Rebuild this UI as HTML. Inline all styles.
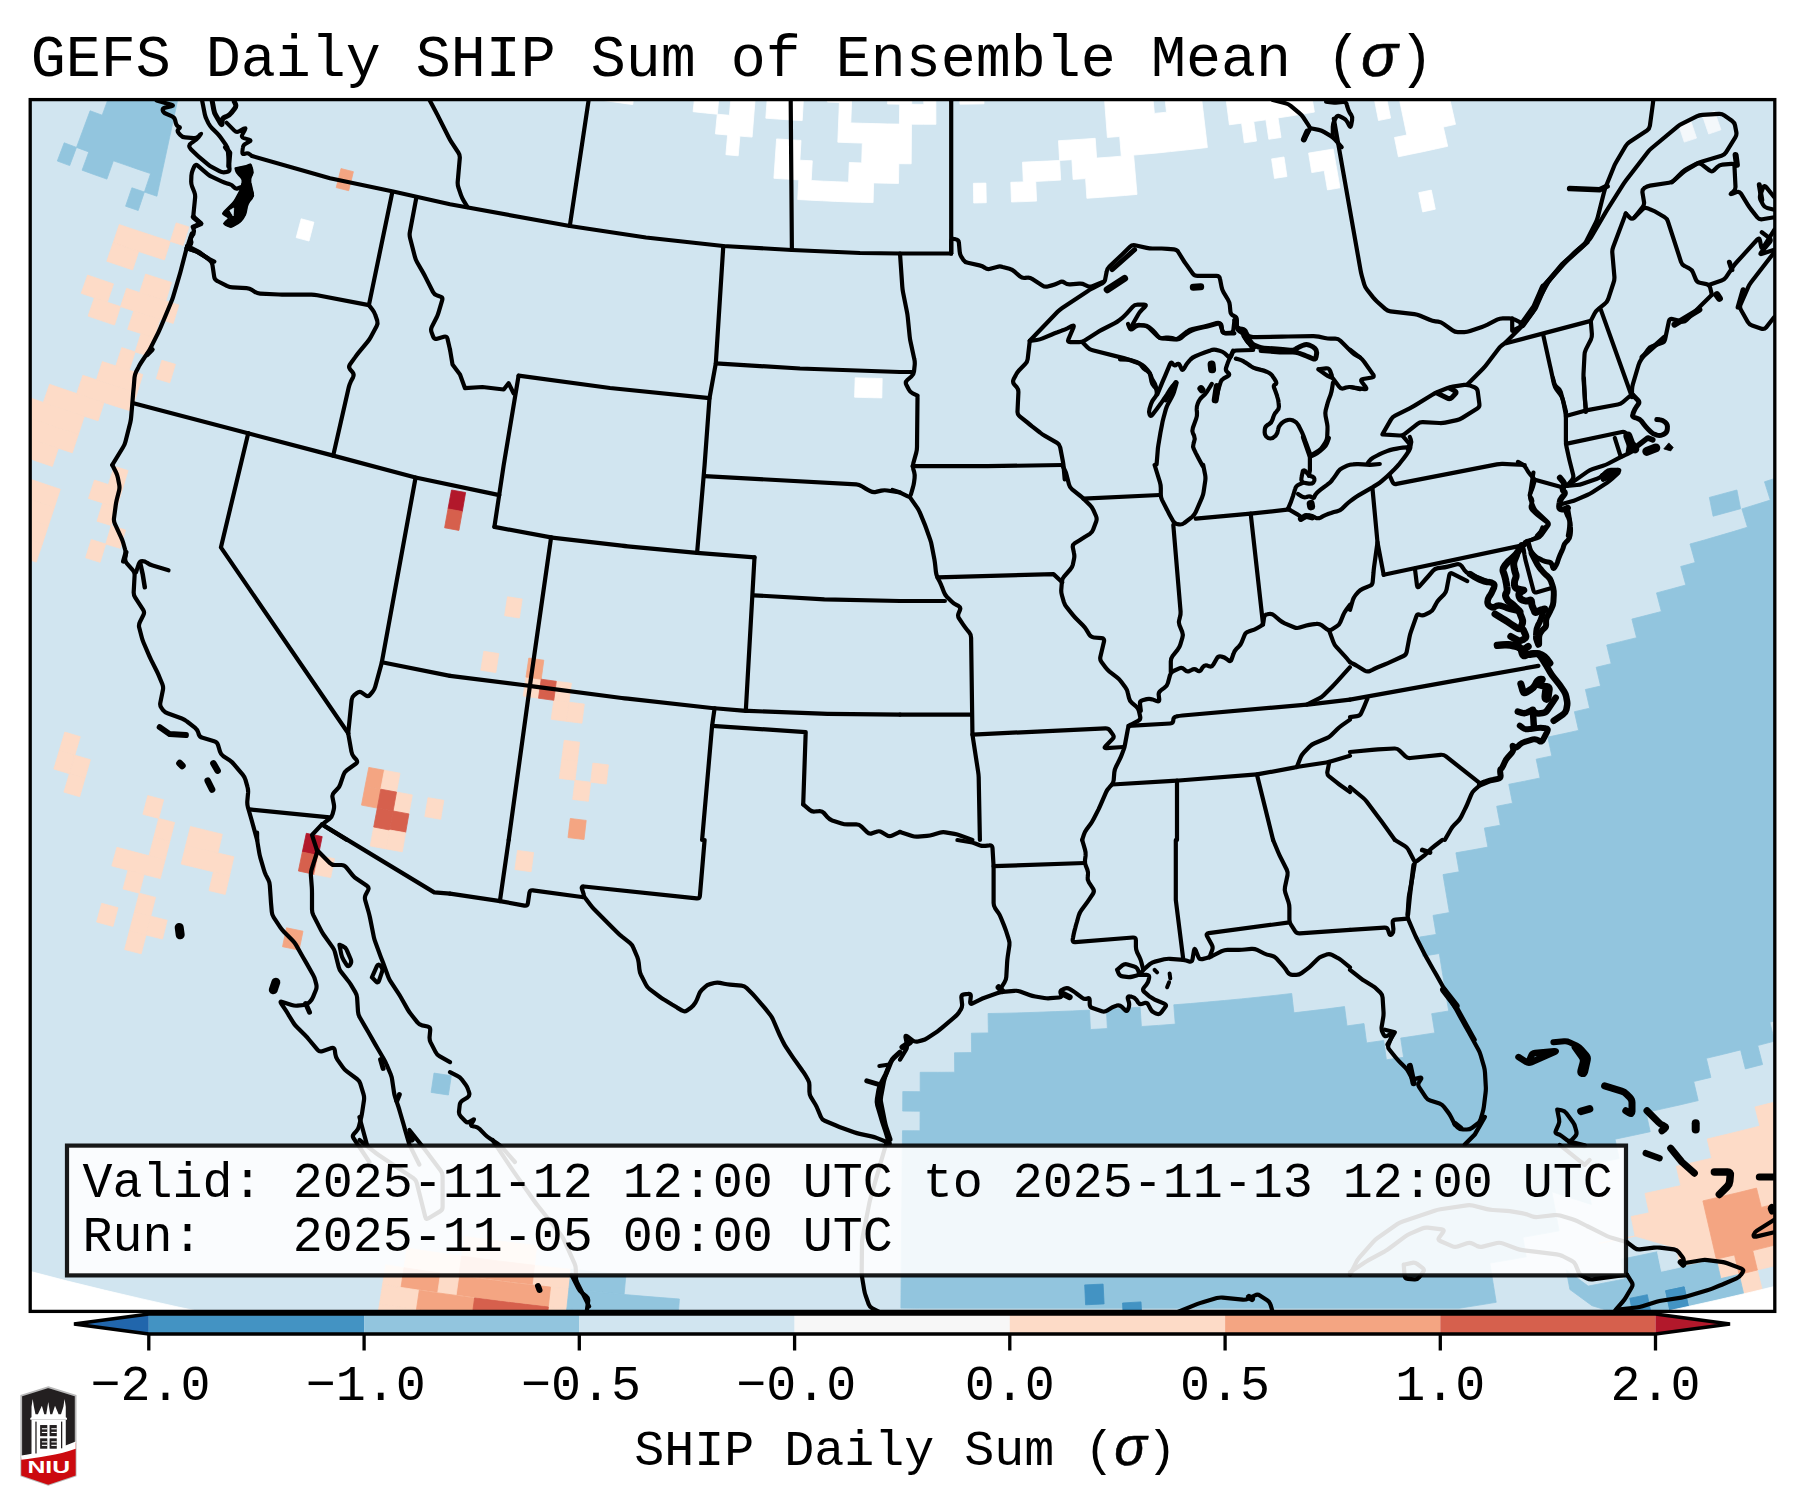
<!DOCTYPE html>
<html><head><meta charset="utf-8"><title>GEFS Daily SHIP</title>
<style>
html,body{margin:0;padding:0;background:#fff;}
body{width:1803px;height:1506px;overflow:hidden;font-family:"Liberation Mono",monospace;}
svg{display:block}
text{font-family:"Liberation Mono",monospace;fill:#000}
.it{font-family:"Liberation Sans",sans-serif;font-style:italic}
</style></head><body>
<svg width="1803" height="1506" viewBox="0 0 1803 1506">
<rect width="1803" height="1506" fill="#fff"/>
<defs><clipPath id="mapclip"><rect x="30" y="99.5" width="1745" height="1212"/></clipPath></defs>
<g clip-path="url(#mapclip)">
<rect x="30" y="99.5" width="1745" height="1212" fill="#d1e5f0"/>
<g stroke-width="0.8" stroke-linejoin="miter">
<path d="M1709.4,497.4 1736.9,490 1740.6,508.7 1713.1,516.2Z" fill="#92c5de" stroke="#92c5de"/>
<path d="M599.5,79.8 611.5,81.5 623.4,83.2 635.3,84.8 632.7,104.6 620.7,102.9 608.6,101.2 596.6,99.5Z" fill="#ffffff" stroke="#ffffff"/>
<path d="M695.2,92 721.1,74.5 717.3,114.2 729.4,115.3 733,75.6 744.9,76.6 756.8,77.6 752.1,137.1 739.9,136.1 738.2,155.8 725.9,154.7 727.6,135 715.4,133.9 717.3,114.2 705.2,113 693.1,111.7Z" fill="#ffffff" stroke="#ffffff"/>
<path d="M768.7,78.5 780.6,79.3 792.5,80.1 804.4,80.8 802.2,120.6 790,119.9 777.9,119.1 765.8,118.2Z" fill="#ffffff" stroke="#ffffff"/>
<path d="M776.6,138.9 788.8,139.7 801,140.4 799.9,160.2 812.3,160.8 811.2,180.5 823.7,181.2 836.2,181.7 848.6,182.2 849.3,162.5 861.7,162.9 862.3,143.1 850.1,142.7 837.8,142.2 839.4,102.5 851.5,103 850.8,122.9 862.9,123.3 875.1,123.6 887.2,123.9 899.4,124.1 899.7,104.2 911.7,104.3 923.8,104.4 923.8,84.5 935.8,84.5 935.9,124.3 923.7,124.3 911.5,124.2 911.2,163.8 898.8,163.7 898.5,183.4 886.1,183.2 873.6,182.9 873.1,202.6 860.5,202.3 847.9,201.9 835.4,201.4 822.8,200.8 810.2,200.2 797.7,199.5 798.8,179.9 786.3,179.1 773.9,178.3Z" fill="#ffffff" stroke="#ffffff"/>
<path d="M828.3,82.1 840.2,82.6 852.2,83 851.5,103 839.4,102.5 827.4,102Z" fill="#ffffff" stroke="#ffffff"/>
<path d="M888,84 900,84.2 911.9,84.4 911.7,104.3 899.7,104.2 887.6,104Z" fill="#ffffff" stroke="#ffffff"/>
<path d="M973.4,183.3 985.9,183.1 986.3,202.7 973.7,203Z" fill="#ffffff" stroke="#ffffff"/>
<path d="M959.7,84.3 971.6,84.1 983.6,83.9 984,103.8 972,104.1 959.9,104.2Z" fill="#ffffff" stroke="#ffffff"/>
<path d="M1102.9,77.9 1114.8,77 1126.7,76 1138.6,74.9 1150.5,73.8 1154.4,113.4 1166.5,112.2 1164.4,92.4 1176.4,91.2 1188.4,89.8 1200.4,88.4 1207.4,147.5 1195.2,148.9 1182.9,150.3 1170.6,151.6 1158.3,152.9 1145.9,154 1133.6,155.1 1137,194.4 1124.5,195.5 1112,196.5 1099.4,197.4 1086.9,198.3 1085.6,178.6 1073.1,179.4 1071.9,159.7 1059.6,160.4 1060.7,180.1 1048.2,180.8 1035.7,181.4 1036.6,201.1 1024,201.6 1011.5,202 1010.8,182.3 1023.3,181.9 1022.5,162.2 1034.9,161.6 1047.2,161.1 1059.6,160.4 1058.5,140.7 1070.7,140 1083,139.2 1095.2,138.3 1096.6,158.1 1109,157.2 1121.3,156.2 1119.7,136.5 1107.4,137.4Z" fill="#ffffff" stroke="#ffffff"/>
<path d="M1224.3,85.4 1311.1,92.6 1314.4,112.1 1302.3,114.1 1290.1,116.1 1278,117.9 1281,137.5 1268.8,139.3 1265.9,119.8 1253.7,121.5 1256.5,141.1 1244.3,142.8 1241.6,123.2 1229.4,124.8Z" fill="#ffffff" stroke="#ffffff"/>
<path d="M1271.6,158.9 1284,157 1286.9,176.5 1274.5,178.4Z" fill="#ffffff" stroke="#ffffff"/>
<path d="M1308.6,153.1 1320.9,151.1 1333.2,149 1336.6,168.4 1340,187.8 1327.5,189.9 1324.2,170.5 1311.8,172.6Z" fill="#ffffff" stroke="#ffffff"/>
<path d="M1370.9,81.6 1382.8,79.3 1390.6,118.1 1378.5,120.5Z" fill="#ffffff" stroke="#ffffff"/>
<path d="M1394.7,76.8 1446.7,85.8 1455.5,124.3 1443.3,127.1 1447.7,146.3 1435.4,149 1423.1,151.7 1410.8,154.2 1398.4,156.8 1394.5,137.5 1406.8,135Z" fill="#ffffff" stroke="#ffffff"/>
<path d="M1418.7,192.7 1431.3,190.1 1435.3,209.2 1422.7,211.9Z" fill="#ffffff" stroke="#ffffff"/>
<path d="M1678.2,123.5 1690.3,119.5 1696.5,138.1 1684.3,142.1Z" fill="#f4f8fb" stroke="#f4f8fb"/>
<path d="M1702.4,115.4 1714.5,111.3 1720.9,129.8 1708.7,134Z" fill="#f4f8fb" stroke="#f4f8fb"/>
<path d="M301.2,218.8 313.9,222.2 309,241 296.2,237.6Z" fill="#ffffff" stroke="#ffffff"/>
<path d="M855.2,377.8 868.7,378.2 882.2,378.5 881.8,397.9 868.2,397.6 854.6,397.2Z" fill="#ffffff" stroke="#ffffff"/>
<path d="M108.9,96.8 181.8,80.8 156.9,196.2 144.4,192 150.6,173.6 138.2,169.4 125.8,165.1 113.4,160.8 106.9,179.1 94.5,174.7 82.1,170.2 88.8,151.9 76.5,147.4 90.1,110.8 102.2,115.2Z" fill="#92c5de" stroke="#92c5de"/>
<path d="M64.2,142.8 76.5,147.4 69.7,165.6 57.3,161Z" fill="#92c5de" stroke="#92c5de"/>
<path d="M131.9,187.8 144.4,192 138.2,210.5 125.6,206.2Z" fill="#92c5de" stroke="#92c5de"/>
<path d="M119.3,224.6 132,228.9 144.8,233.1 157.5,237.3 170.3,241.4 164.4,259.9 151.5,255.7 138.7,251.5 125.9,247.3 113.1,242.9Z" fill="#fddbc7" stroke="#fddbc7"/>
<path d="M113.1,242.9 125.9,247.3 138.7,251.5 132.6,269.9 119.7,265.6 106.8,261.2Z" fill="#fddbc7" stroke="#fddbc7"/>
<path d="M176.2,222.9 188.9,226.9 183.1,245.4 170.3,241.4Z" fill="#fddbc7" stroke="#fddbc7"/>
<path d="M145.6,274.1 158.6,278.3 171.5,282.4 165.8,300.9 152.7,296.7 139.6,292.5Z" fill="#fddbc7" stroke="#fddbc7"/>
<path d="M87.6,275.1 100.5,279.5 113.5,283.9 107.4,302.3 94.3,297.8 81.2,293.3Z" fill="#fddbc7" stroke="#fddbc7"/>
<path d="M126.6,288.3 139.6,292.5 152.7,296.7 165.8,300.9 178.9,304.9 173.2,323.4 160,319.3 146.8,315.1 133.7,310.9 120.5,306.6Z" fill="#fddbc7" stroke="#fddbc7"/>
<path d="M94.3,297.8 107.4,302.3 120.5,306.6 114.5,325 101.3,320.6 88.1,316.1Z" fill="#fddbc7" stroke="#fddbc7"/>
<path d="M133.7,310.9 146.8,315.1 160,319.3 154.3,337.7 141,333.5 127.7,329.3Z" fill="#fddbc7" stroke="#fddbc7"/>
<path d="M141,333.5 154.3,337.7 148.5,356.1 135.1,351.9Z" fill="#fddbc7" stroke="#fddbc7"/>
<path d="M121.8,347.6 135.1,351.9 129.3,370.3 115.8,365.9Z" fill="#fddbc7" stroke="#fddbc7"/>
<path d="M161.9,360.3 175.4,364.3 169.8,382.8 156.3,378.7Z" fill="#fddbc7" stroke="#fddbc7"/>
<path d="M102.4,361.6 115.8,365.9 129.3,370.3 142.8,374.5 137.1,392.9 123.5,388.6 109.9,384.3 96.4,379.8Z" fill="#fddbc7" stroke="#fddbc7"/>
<path d="M82.9,375.3 96.4,379.8 109.9,384.3 123.5,388.6 137.1,392.9 131.3,411.2 117.6,406.9 104,402.5 90.4,398.1 76.7,393.6Z" fill="#fddbc7" stroke="#fddbc7"/>
<path d="M341,168.6 353.4,171.7 348.7,190.7 336.2,187.6Z" fill="#f4a582" stroke="#f4a582"/>
<path d="M49.6,384.3 63.2,389 76.7,393.6 90.4,398.1 104,402.5 98.1,420.8 84.3,416.3 70.6,411.8 56.9,407.1 43.3,402.4Z" fill="#fddbc7" stroke="#fddbc7"/>
<path d="M-91.8,351.4 -78.4,356.8 -65,362.2 -51.6,367.5 -38.1,372.7 -24.6,377.8 -11.1,382.9 2.5,387.9 16,392.8 29.7,397.7 43.3,402.4 56.9,407.1 70.6,411.8 84.3,416.3 78.3,434.6 64.5,430 50.7,425.3 37,420.6 23.2,415.8 9.5,410.9 -4.1,405.9 -17.8,400.9 -31.4,395.8 -45,390.6 -58.6,385.3 -72.1,380 -85.6,374.6 -99.1,369.2Z" fill="#fddbc7" stroke="#fddbc7"/>
<path d="M-99.1,369.2 -85.6,374.6 -72.1,380 -58.6,385.3 -45,390.6 -31.4,395.8 -17.8,400.9 -4.1,405.9 9.5,410.9 23.2,415.8 37,420.6 50.7,425.3 64.5,430 78.3,434.6 72.3,452.8 58.4,448.2 44.5,443.5 30.7,438.7 16.8,433.9 3,428.9 -10.7,424 -24.5,418.9 -38.2,413.7 -51.9,408.5 -65.5,403.2 -79.2,397.9 -92.8,392.4 -106.4,386.9Z" fill="#fddbc7" stroke="#fddbc7"/>
<path d="M-106.4,386.9 -92.8,392.4 -79.2,397.9 -65.5,403.2 -51.9,408.5 -38.2,413.7 -24.5,418.9 -10.7,424 3,428.9 16.8,433.9 30.7,438.7 44.5,443.5 58.4,448.2 52.3,466.4 38.3,461.7 24.4,456.8 10.4,452 -3.4,447 -17.3,442 -31.2,436.9 -45,431.7 -58.8,426.4 -72.5,421.1 -86.3,415.7 -100,410.2 -113.6,404.7Z" fill="#fddbc7" stroke="#fddbc7"/>
<path d="M-120.9,422.5 -107.1,428 -93.3,433.6 -79.5,439 -65.6,444.4 -51.8,449.6 -37.8,454.9 -23.9,460 -9.9,465.1 4,470.1 18.1,475 32.1,479.8 46.2,484.6 60.3,489.3 54.3,507.5 40.1,502.8 25.9,498 11.8,493.1 -2.3,488.1 -16.4,483.1 -30.5,478 -44.5,472.8 -58.5,467.6 -72.5,462.3 -86.5,456.9 -100.4,451.4 -114.3,445.8 -128.1,440.2Z" fill="#fddbc7" stroke="#fddbc7"/>
<path d="M-128.1,440.2 -114.3,445.8 -100.4,451.4 -86.5,456.9 -72.5,462.3 -58.5,467.6 -44.5,472.8 -30.5,478 -16.4,483.1 -2.3,488.1 11.8,493.1 25.9,498 40.1,502.8 54.3,507.5 48.3,525.7 34,520.9 19.7,516.1 5.5,511.2 -8.7,506.2 -22.9,501.2 -37.1,496 -51.2,490.8 -65.3,485.5 -79.4,480.2 -93.4,474.7 -107.5,469.2 -121.4,463.6 -135.4,458Z" fill="#fddbc7" stroke="#fddbc7"/>
<path d="M-135.4,458 -121.4,463.6 -107.5,469.2 -93.4,474.7 -79.4,480.2 -65.3,485.5 -51.2,490.8 -37.1,496 -22.9,501.2 -8.7,506.2 5.5,511.2 19.7,516.1 34,520.9 48.3,525.7 42.3,543.9 27.9,539.1 13.5,534.3 -0.8,529.3 -15.1,524.3 -29.4,519.2 -43.7,514 -57.9,508.8 -72.1,503.5 -86.3,498.1 -100.4,492.6 -114.5,487 -128.6,481.4 -142.7,475.7Z" fill="#fddbc7" stroke="#fddbc7"/>
<path d="M-142.7,475.7 -128.6,481.4 -114.5,487 -100.4,492.6 -86.3,498.1 -72.1,503.5 -57.9,508.8 -43.7,514 -29.4,519.2 -15.1,524.3 -0.8,529.3 13.5,534.3 27.9,539.1 42.3,543.9 36.2,562.1 21.8,557.3 7.3,552.4 -7.1,547.4 -21.5,542.4 -35.9,537.2 -50.3,532 -64.6,526.8 -78.9,521.4 -93.1,516 -107.4,510.5 -121.6,504.9 -135.8,499.2 -149.9,493.5Z" fill="#fddbc7" stroke="#fddbc7"/>
<path d="M94.4,480.1 108.4,484.6 122.5,488.9 116.9,507.3 102.7,502.9 88.5,498.4Z" fill="#fddbc7" stroke="#fddbc7"/>
<path d="M102.7,502.9 116.9,507.3 111.3,525.6 97,521.2Z" fill="#fddbc7" stroke="#fddbc7"/>
<path d="M114.2,466.3 128.1,470.6 122.5,488.9 108.4,484.6Z" fill="#fddbc7" stroke="#fddbc7"/>
<path d="M111.3,525.6 125.6,530 120.1,548.3 105.7,544Z" fill="#fddbc7" stroke="#fddbc7"/>
<path d="M91.3,539.5 105.7,544 100.1,562.3 85.6,557.8Z" fill="#fddbc7" stroke="#fddbc7"/>
<path d="M64.8,732.1 80.3,736.7 74.8,755.2 59.3,750.6Z" fill="#fddbc7" stroke="#fddbc7"/>
<path d="M59.3,750.6 74.8,755.2 69.4,773.7 53.8,769Z" fill="#fddbc7" stroke="#fddbc7"/>
<path d="M74.8,755.2 90.4,759.7 85,778.2 69.4,773.7Z" fill="#fddbc7" stroke="#fddbc7"/>
<path d="M69.4,773.7 85,778.2 79.7,796.7 63.9,792.1Z" fill="#fddbc7" stroke="#fddbc7"/>
<path d="M147.8,795.6 163.6,799.8 158.7,818.4 142.9,814.3Z" fill="#fddbc7" stroke="#fddbc7"/>
<path d="M158.7,818.4 174.6,822.5 169.8,841.2 153.9,837.1Z" fill="#fddbc7" stroke="#fddbc7"/>
<path d="M153.9,837.1 169.8,841.2 165.1,859.9 149,855.8Z" fill="#fddbc7" stroke="#fddbc7"/>
<path d="M116.9,847.3 132.9,851.6 149,855.8 165.1,859.9 160.3,878.6 144.1,874.5 128,870.2 111.8,865.9Z" fill="#fddbc7" stroke="#fddbc7"/>
<path d="M190.5,826.5 206.4,830.4 222.3,834.3 217.9,853 201.8,849.2 185.8,845.2Z" fill="#fddbc7" stroke="#fddbc7"/>
<path d="M185.8,845.2 201.8,849.2 217.9,853 233.9,856.8 229.6,875.6 213.4,871.8 197.3,867.9 181.2,864Z" fill="#fddbc7" stroke="#fddbc7"/>
<path d="M306.3,833.3 322.2,836.6 318.4,855.5 302.3,852.1Z" fill="#b2182b" stroke="#b2182b"/>
<path d="M302.3,852.1 318.4,855.5 314.5,874.4 298.4,871Z" fill="#d6604d" stroke="#d6604d"/>
<path d="M128,870.2 144.1,874.5 139.3,893.2 123,888.9Z" fill="#fddbc7" stroke="#fddbc7"/>
<path d="M139.3,893.2 155.5,897.4 150.8,916.2 134.4,912Z" fill="#fddbc7" stroke="#fddbc7"/>
<path d="M101.7,903.3 118,907.7 113,926.4 96.6,922Z" fill="#fddbc7" stroke="#fddbc7"/>
<path d="M134.4,912 150.8,916.2 146,935 129.5,930.7Z" fill="#fddbc7" stroke="#fddbc7"/>
<path d="M150.8,916.2 167.2,920.3 162.5,939.1 146,935Z" fill="#fddbc7" stroke="#fddbc7"/>
<path d="M129.5,930.7 146,935 141.2,953.8 124.6,949.5Z" fill="#fddbc7" stroke="#fddbc7"/>
<path d="M213.4,871.8 229.6,875.6 225.2,894.4 209,890.6Z" fill="#fddbc7" stroke="#fddbc7"/>
<path d="M318.4,855.5 334.5,858.7 330.7,877.6 314.5,874.4Z" fill="#fddbc7" stroke="#fddbc7"/>
<path d="M286.5,927.8 303,931.2 299.1,950.1 282.5,946.7Z" fill="#f4a582" stroke="#f4a582"/>
<path d="M434,1073.1 451.3,1075.7 448.4,1095 431.1,1092.4Z" fill="#92c5de" stroke="#92c5de"/>
<path d="M368.8,767.4 384.4,770.3 380.8,789.2 365.1,786.2Z" fill="#f4a582" stroke="#f4a582"/>
<path d="M365.1,786.2 380.8,789.2 377.3,808.1 361.5,805.1Z" fill="#f4a582" stroke="#f4a582"/>
<path d="M384.4,770.3 400,773.2 396.5,792.1 380.8,789.2Z" fill="#fddbc7" stroke="#fddbc7"/>
<path d="M396.5,792.1 412.3,794.9 408.9,813.9 393.1,811Z" fill="#fddbc7" stroke="#fddbc7"/>
<path d="M428,797.7 443.8,800.3 440.7,819.3 424.8,816.6Z" fill="#fddbc7" stroke="#fddbc7"/>
<path d="M373.7,827 389.7,830 386.2,848.9 370.2,846Z" fill="#fddbc7" stroke="#fddbc7"/>
<path d="M380.8,789.2 396.5,792.1 393.1,811 377.3,808.1Z" fill="#d6604d" stroke="#d6604d"/>
<path d="M377.3,808.1 393.1,811 389.7,830 373.7,827Z" fill="#d6604d" stroke="#d6604d"/>
<path d="M393.1,811 408.9,813.9 405.6,832.8 389.7,830Z" fill="#d6604d" stroke="#d6604d"/>
<path d="M451.5,490 465.6,492.5 462.3,511.5 448,508.9Z" fill="#b2182b" stroke="#b2182b"/>
<path d="M448,508.9 462.3,511.5 458.9,530.4 444.6,527.8Z" fill="#d6604d" stroke="#d6604d"/>
<path d="M507.5,596.8 522.2,599 519.4,618 504.6,615.7Z" fill="#fddbc7" stroke="#fddbc7"/>
<path d="M483.8,651.3 498.8,653.6 495.8,672.6 480.8,670.2Z" fill="#fddbc7" stroke="#fddbc7"/>
<path d="M556.3,681.3 571.4,683.2 569,702.2 553.8,700.3Z" fill="#fddbc7" stroke="#fddbc7"/>
<path d="M553.8,700.3 569,702.2 566.6,721.3 551.2,719.3Z" fill="#fddbc7" stroke="#fddbc7"/>
<path d="M569,702.2 584.3,704.1 581.9,723.2 566.6,721.3Z" fill="#fddbc7" stroke="#fddbc7"/>
<path d="M526,677.1 541.2,679.2 538.5,698.2 523.3,696.1Z" fill="#fddbc7" stroke="#fddbc7"/>
<path d="M564.2,740.3 579.6,742.2 577.3,761.3 561.8,759.3Z" fill="#fddbc7" stroke="#fddbc7"/>
<path d="M561.8,759.3 577.3,761.3 575,780.3 559.3,778.4Z" fill="#fddbc7" stroke="#fddbc7"/>
<path d="M592.9,763.1 608.4,764.9 606.3,784 590.7,782.2Z" fill="#fddbc7" stroke="#fddbc7"/>
<path d="M575,780.3 590.7,782.2 588.4,801.3 572.7,799.4Z" fill="#fddbc7" stroke="#fddbc7"/>
<path d="M517.5,850.4 533.6,852.6 531.1,871.7 514.9,869.5Z" fill="#fddbc7" stroke="#fddbc7"/>
<path d="M528.8,658.1 543.8,660.2 541.2,679.2 526,677.1Z" fill="#f4a582" stroke="#f4a582"/>
<path d="M570.3,818.5 586.2,820.4 584,839.5 568,837.6Z" fill="#f4a582" stroke="#f4a582"/>
<path d="M541.2,679.2 556.3,681.3 553.8,700.3 538.5,698.2Z" fill="#d6604d" stroke="#d6604d"/>
<path d="M389.7,830 405.6,832.8 402.3,851.8 386.2,848.9Z" fill="#fddbc7" stroke="#fddbc7"/>
<path d="M902.3,1150.2 902.5,1130.7 920,1130.8 920.1,1111.2 902.7,1111.1 902.8,1091.6 920.2,1091.7 920.2,1072.3 937.4,1072.3 954.7,1072.2 954.5,1052.8 971.6,1052.6 971.4,1033.2 988.4,1032.9 988.1,1013.5 1005,1013.2 1021.9,1012.8 1038.8,1012.2 1055.7,1011.6 1072.6,1010.9 1089.5,1010.1 1090.4,1029.5 1107.4,1028.6 1106.4,1009.2 1123.2,1008.3 1140.1,1007.2 1141.4,1026.5 1158.4,1025.4 1175.3,1024.1 1173.8,1004.8 1190.7,1003.5 1207.6,1002 1224.4,1000.5 1241.2,998.9 1258,997.2 1274.9,995.4 1291.7,993.5 1293.9,1012.8 1310.8,1010.8 1327.7,1008.8 1344.5,1006.6 1347,1025.9 1364,1023.6 1366.6,1042.9 1383.7,1040.5 1386.4,1059.8 1403.6,1057.3 1400.7,1038.1 1417.8,1035.5 1434.8,1032.9 1431.7,1013.7 1448.7,1011 1445.5,991.8 1442.4,972.6 1439.3,953.5 1422.7,956.2 1419.7,937.1 1436.2,934.4 1433,915.4 1449.4,912.6 1443,874.6 1459.2,871.8 1455.9,852.8 1471.9,850 1487.9,847.1 1484.4,828.1 1500.3,825.2 1496.7,806.3 1512.5,803.2 1508.8,784.3 1524.5,781.2 1540.1,778 1536.2,759.2 1551.8,755.9 1547.8,737.1 1563.2,733.8 1578.6,730.4 1574.4,711.7 1589.7,708.2 1585.4,689.5 1600.6,686 1596.2,667.3 1611.2,663.7 1606.7,645.1 1621.6,641.4 1636.6,637.7 1631.9,619.1 1646.7,615.3 1661.4,611.5 1656.5,592.9 1671.2,589 1685.8,585 1680.7,566.5 1695.2,562.5 1690,544 1704.4,540 1718.8,535.8 1733.2,531.6 1747.5,527.2 1741.9,508.9 1756.1,504.5 1770.3,500.1 1764.5,481.8 1778.5,477.3 1812.7,486.3 1803.6,1013 1786.7,1017.7 1769.8,1022.2 1774.7,1041.1 1757.7,1045.5 1762.6,1064.5 1745.4,1068.9 1740.6,1049.9 1723.5,1054.2 1706.3,1058.3 1710.9,1077.4 1693.7,1081.5 1698.2,1100.6 1680.8,1104.7 1663.4,1108.6 1646,1112.5 1650.2,1131.7 1632.6,1135.5 1615,1139.2 1619.1,1158.5 1601.4,1162.1 1583.7,1165.6 1591.3,1204.4 1551.8,1191.8 1559,1230.8 1540.9,1234.1 1522.8,1237.3 1526.2,1256.8 1508,1260 1489.8,1263 1493,1282.6 1496.2,1302.3 1477.8,1305.3 1459.3,1308.2 919.4,1308.2 900.9,1308.1Z" fill="#92c5de" stroke="#92c5de"/>
<path d="M1807.1,1093.4 1789.8,1098 1772.4,1102.6 1755,1107 1759.8,1126.1 1742.3,1130.5 1724.8,1134.8 1707.2,1139 1711.7,1158.2 1694,1162.3 1676.3,1166.3 1680.7,1185.6 1662.8,1189.6 1645,1193.4 1649.1,1212.8 1631.1,1216.6 1635.1,1236.1 1617,1239.8 1598.9,1243.4 1617,1239.8 1635.1,1236.1 1675.5,1247.8 1679.8,1267.3 1698.1,1263.3 1716.3,1259.1 1720.8,1278.6 1739.1,1274.4 1743.7,1293.9 1762.1,1289.5 1757.4,1270 1775.6,1265.6 1793.9,1261 1812.1,1256.4Z" fill="#fddbc7" stroke="#fddbc7"/>
<path d="M1702.9,1200.9 1720.8,1196.7 1738.7,1192.5 1756.5,1188.1 1761.3,1207.4 1779.2,1203 1797.1,1198.4 1815,1193.7 1807.1,1237 1789,1241.6 1770.8,1246.1 1752.7,1250.6 1757.4,1270 1739.1,1274.4 1734.5,1254.9 1716.3,1259.1Z" fill="#f4a582" stroke="#f4a582"/>
<path d="M1621,1259.3 1639.2,1255.6 1657.4,1251.7 1661.5,1271.3 1679.8,1267.3 1698.1,1263.3 1716.3,1259.1 1720.8,1278.6 1739.1,1274.4 1743.7,1293.9 1725.3,1298.2 1729.8,1317.8 1688.4,1306.5 1669.9,1310.5 1651.4,1314.4 1632.9,1318.1Z" fill="#92c5de" stroke="#92c5de"/>
<path d="M1657.4,1251.7 1675.5,1247.8 1679.8,1267.3 1661.5,1271.3Z" fill="#d1e5f0" stroke="#d1e5f0"/>
<path d="M1628.9,1298.5 1647.3,1294.7 1651.4,1314.4 1632.9,1318.1Z" fill="#4393c3" stroke="#4393c3"/>
<path d="M1665.7,1290.8 1684.1,1286.9 1688.4,1306.5 1669.9,1310.5Z" fill="#4393c3" stroke="#4393c3"/>
<path d="M1665.7,1290.8 1684.1,1286.9 1688.4,1306.5 1669.9,1310.5Z" fill="#4393c3" stroke="#4393c3"/>
<path d="M1566.2,1269.9 1588.2,1286.1 1606.6,1282.5 1624.9,1278.9 1632.9,1318.1 1592,1305.7 1569.9,1289.5Z" fill="#92c5de" stroke="#92c5de"/>
<path d="M1084.7,1284.9 1103.1,1284.1 1104.1,1303.9 1085.6,1304.8Z" fill="#4393c3" stroke="#4393c3"/>
<path d="M1122.5,1303 1141,1301.9 1142.2,1321.8 1123.6,1322.8Z" fill="#4393c3" stroke="#4393c3"/>
<path d="M464.3,1236.4 482.4,1238.8 500.5,1241.2 518.6,1243.4 536.8,1245.6 534.5,1265.3 516.2,1263.1 498,1260.9 479.8,1258.5 461.6,1256Z" fill="#fddbc7" stroke="#fddbc7"/>
<path d="M407,1248.1 425.2,1250.8 443.4,1253.5 461.6,1256 479.8,1258.5 498,1260.9 516.2,1263.1 534.5,1265.3 552.7,1267.4 571,1269.3 568.9,1289.1 550.5,1287.1 532.2,1285 513.8,1282.9 495.5,1280.6 477.2,1278.2 458.9,1275.7 440.6,1273.1 422.3,1270.5 404,1267.7Z" fill="#fddbc7" stroke="#fddbc7"/>
<path d="M461.6,1256 479.8,1258.5 498,1260.9 516.2,1263.1 534.5,1265.3 532.2,1285 513.8,1282.9 495.5,1280.6 477.2,1278.2 458.9,1275.7Z" fill="#f4a582" stroke="#f4a582"/>
<path d="M385.7,1264.8 404,1267.7 422.3,1270.5 440.6,1273.1 458.9,1275.7 477.2,1278.2 495.5,1280.6 513.8,1282.9 532.2,1285 550.5,1287.1 568.9,1289.1 566.8,1308.9 548.3,1306.9 529.9,1304.8 511.4,1302.6 493,1300.3 474.6,1297.9 456.1,1295.4 437.7,1292.9 419.3,1290.2 401,1287.4 382.6,1284.5Z" fill="#fddbc7" stroke="#fddbc7"/>
<path d="M404,1267.7 422.3,1270.5 440.6,1273.1 458.9,1275.7 477.2,1278.2 495.5,1280.6 513.8,1282.9 532.2,1285 550.5,1287.1 548.3,1306.9 529.9,1304.8 511.4,1302.6 493,1300.3 474.6,1297.9 456.1,1295.4 437.7,1292.9 419.3,1290.2 401,1287.4Z" fill="#f4a582" stroke="#f4a582"/>
<path d="M440.6,1273.1 458.9,1275.7 456.1,1295.4 437.7,1292.9Z" fill="#fddbc7" stroke="#fddbc7"/>
<path d="M382.6,1284.5 401,1287.4 419.3,1290.2 437.7,1292.9 456.1,1295.4 474.6,1297.9 493,1300.3 511.4,1302.6 529.9,1304.8 548.3,1306.9 566.8,1308.9 564.7,1328.8 546.1,1326.8 527.6,1324.7 509,1322.4 490.5,1320.1 471.9,1317.7 453.4,1315.2 434.9,1312.6 416.4,1309.9 397.9,1307.1 379.5,1304.2Z" fill="#fddbc7" stroke="#fddbc7"/>
<path d="M419.3,1290.2 437.7,1292.9 456.1,1295.4 474.6,1297.9 493,1300.3 511.4,1302.6 529.9,1304.8 548.3,1306.9 546.1,1326.8 527.6,1324.7 509,1322.4 490.5,1320.1 471.9,1317.7 453.4,1315.2 434.9,1312.6 416.4,1309.9Z" fill="#f4a582" stroke="#f4a582"/>
<path d="M474.6,1297.9 493,1300.3 511.4,1302.6 529.9,1304.8 548.3,1306.9 546.1,1326.8 527.6,1324.7 509,1322.4 490.5,1320.1 471.9,1317.7Z" fill="#d6604d" stroke="#d6604d"/>
<path d="M379.5,1304.2 397.9,1307.1 416.4,1309.9 434.9,1312.6 453.4,1315.2 471.9,1317.7 490.5,1320.1 509,1322.4 527.6,1324.7 546.1,1326.8 564.7,1328.8 562.6,1348.7 543.9,1346.7 525.3,1344.5 506.6,1342.3 487.9,1340 469.3,1337.6 450.7,1335.1 432.1,1332.4 413.5,1329.7 394.9,1326.9 376.3,1324Z" fill="#fddbc7" stroke="#fddbc7"/>
<path d="M416.4,1309.9 434.9,1312.6 453.4,1315.2 471.9,1317.7 490.5,1320.1 509,1322.4 527.6,1324.7 546.1,1326.8 543.9,1346.7 525.3,1344.5 506.6,1342.3 487.9,1340 469.3,1337.6 450.7,1335.1 432.1,1332.4 413.5,1329.7Z" fill="#f4a582" stroke="#f4a582"/>
<path d="M471.9,1317.7 490.5,1320.1 509,1322.4 527.6,1324.7 546.1,1326.8 543.9,1346.7 525.3,1344.5 506.6,1342.3 487.9,1340 469.3,1337.6Z" fill="#d6604d" stroke="#d6604d"/>
<path d="M571,1269.3 589.3,1271.2 607.6,1273 625.9,1274.7 624.1,1294.5 605.7,1292.8 587.3,1291 568.9,1289.1Z" fill="#92c5de" stroke="#92c5de"/>
<path d="M568.9,1289.1 587.3,1291 605.7,1292.8 624.1,1294.5 642.5,1296.1 660.9,1297.6 679.4,1299 677.9,1318.8 659.4,1317.4 640.8,1315.9 622.3,1314.3 603.8,1312.6 585.3,1310.8 566.8,1308.9Z" fill="#92c5de" stroke="#92c5de"/>
<path d="M566.8,1308.9 585.3,1310.8 603.8,1312.6 622.3,1314.3 640.8,1315.9 659.4,1317.4 677.9,1318.8 676.4,1338.7 657.8,1337.3 639.2,1335.8 620.5,1334.2 601.9,1332.5 583.3,1330.7 564.7,1328.8Z" fill="#92c5de" stroke="#92c5de"/>
<path d="M-150.5,1218.7 -114.4,1230.1 -78.2,1241 -41.9,1251.6 -5.5,1261.8 31,1271.6 67.6,1281.1 104.4,1290.1 141.2,1298.7 178.1,1307 215.1,1314.8 252.1,1322.3 289.3,1329.4 326.5,1336 363.8,1342.3 401.1,1348.2 438.6,1353.6 476,1358.7 513.6,1363.4 551.1,1367.6 588.7,1371.5 626.4,1375 664.1,1378 701.8,1380.7 739.6,1382.9 777.3,1384.8 815.1,1386.2 852.9,1387.3 890.7,1387.9 928.5,1388.2 966.3,1388 1004.1,1387.4 1041.9,1386.5 1079.7,1385.1 1117.5,1383.3 1155.3,1381.1 1193,1378.5 1230.7,1375.6 1268.3,1372.2 1306,1368.4 1343.5,1364.2 1381.1,1359.6 1418.5,1354.6 1456,1349.2 1493.3,1343.4 1530.6,1337.2 1567.9,1330.6 1605,1323.6 1642.1,1316.3 1679.1,1308.5 1716,1300.3 1752.9,1291.7 1789.6,1282.8 1826.3,1273.4 1862.8,1263.7 1899.2,1253.6 1935.5,1243 1900,1400 -100,1400Z" fill="#ffffff" stroke="#ffffff"/>
<path d="M235.4,168.2 246.5,166 250.9,163.8 253.1,172.6 249.8,179.3 252,189.3 253.7,195.9 247.6,203.7 245.4,214.8 240.9,221.5 230.9,227.6 223.2,223.7 229.8,218.1 222.1,213.7 234.3,201.5 240.9,189.3 243.1,179.3 236.5,172.6Z" fill="#000" stroke="#000"/>
<path d="M229.8,210.4 233.7,208.1 233.2,215.9Z" fill="#d1e5f0" stroke="#d1e5f0"/>
<path d="M1663.8,448.9 1668.8,442.9 1673.2,447.4 1670.7,450.9Z" fill="#000" stroke="#000"/>
</g>
<g fill="none" stroke="#000" stroke-linejoin="round" stroke-linecap="round">
<path d="M156.6,100.5L171.5,104.7Q174.4,105.5 171.5,106.2L165.1,107.6Q162.2,108.3 162.8,110.5L162.8,110.5Q163.3,112.7 166.1,113.8L171.6,116.1Q174.4,117.2 175.1,120.1L175.9,123.2Q176.6,126.1 178.8,126.7L178.8,126.7Q181,127.2 178.8,128.8L178.8,128.8Q176.6,130.5 178.5,132.8L180.2,134.9Q182.1,137.2 185.1,137.4L193.6,138.1Q196.6,138.3 198.7,136.2L200.0,134.8Q202.1,132.7 200.2,135.0L198.5,137.1Q196.6,139.4 194.1,141.0L192.4,142.2Q189.9,143.8 189.4,145.4L189.4,145.4Q188.8,147.1 190.9,149.2L194.5,152.8Q196.6,154.9 198.9,156.8L207.6,164.1Q209.9,166 212.5,167.4L219.5,171.2Q222.1,172.6 225.1,172.2L226.8,171.9Q229.8,171.5 229.5,168.5L229.0,164.6Q228.7,161.6 228.5,158.6L227.8,150.1Q227.6,147.1 225.8,144.7L220.5,137.3Q218.7,134.9 216.6,132.8L212.0,128.2Q209.9,126.1 208.5,123.4L206.8,119.9Q205.4,117.2 204.8,114.3L202.1,100.5" stroke-width="4.2"/>
<path d="M225.4,147.1 229.8,152.7 228.7,166" stroke-width="5"/>
<path d="M212.1,100.5L213.8,109.7Q214.3,112.7 215.8,115.3L220.6,123.5Q222.1,126.1 222.1,123.1L222.1,121.3Q222.1,118.3 224.9,117.1L227.0,116.2Q229.8,115 231.6,112.6L234.7,108.5Q236.5,106.1 235.4,103.9L234.3,101.7" stroke-width="5"/>
<path d="M226.5,122.7L234.4,130.6Q236.5,132.7 239.1,131.3L243.9,128.6Q246.5,127.2 245.0,129.8L242.4,134.6Q240.9,137.2 243.8,138.1L249.1,139.6Q252,140.5 249.3,141.8L245.8,143.6Q243.1,144.9 242.8,147.9L242.3,151.9Q242,154.9 244.8,153.8L244.8,153.8Q247.6,152.7 249.8,154.3L252,156" stroke-width="4"/>
<path d="M240.9,187.1L238.2,188.2Q235.4,189.3 233.8,187.1L233.8,187.1Q232.1,184.9 229.2,184.1L227.2,183.4Q224.3,182.6 221.6,181.4L212.6,177.2Q209.9,176 207.6,174.1L197.7,165.7Q195.4,163.8 194.2,166.6L192.8,169.8Q191.6,172.6 191.4,175.6L191.2,180.7Q191,183.7 192.1,186.5L194.3,192.0Q195.4,194.8 195.1,197.8L194.6,202.9Q194.3,205.9 194.0,208.9L193.5,214.0Q193.2,217 195.5,219.0L198.7,221.7Q201,223.7 198.2,224.9L196.0,225.8Q193.2,227 193.7,230.0L193.8,230.7Q194.3,233.7 192.2,235.8L192.0,236.0Q189.9,238.1 191.0,240.8L191.0,240.8Q192.1,243.6 189.8,245.5L188.9,246.2Q186.6,248.1 189.4,249.0L193.8,250.5Q196.6,251.4 199.2,253.0L205.0,256.5Q207.6,258.1 210.3,259.5L214.3,261.6" stroke-width="4.2"/>
<path d="M193.2,217 201,223.7 193.2,227" stroke-width="5"/>
<path d="M192.1,233.7 188.8,243.6" stroke-width="5"/>
<path d="M186.6,248.1 196.6,251.4 207.6,258.1" stroke-width="4.5"/>
<path d="M235.4,168.2L243.6,166.6Q246.5,166 248.7,164.9L248.7,164.9Q250.9,163.8 251.6,166.7L252.4,169.7Q253.1,172.6 251.8,175.3L251.1,176.6Q249.8,179.3 250.4,182.2L251.4,186.4Q252,189.3 252.7,192.2L253.0,193.0Q253.7,195.9 251.9,198.3L249.4,201.3Q247.6,203.7 247.0,206.6L246.0,211.9Q245.4,214.8 243.7,217.3L242.6,219.0Q240.9,221.5 238.3,223.1L233.5,226.0Q230.9,227.6 228.2,226.2L225.9,225.1Q223.2,223.7 225.5,221.8L227.5,220.0Q229.8,218.1 227.2,216.6L224.7,215.2Q222.1,213.7 224.2,211.6L232.2,203.6Q234.3,201.5 235.7,198.9L239.5,191.9Q240.9,189.3 241.5,186.4L242.5,182.2Q243.1,179.3 241.0,177.2L238.6,174.7Q236.5,172.6 235.9,170.4L235.4,168.2" stroke-width="2"/>
<path d="M252,156 330,178.2 394.3,191.8 450,204.3 569.8,226 646,237.5 723.3,246 791.9,250 860,253 900,253.5 951.2,253.5" stroke-width="4.2"/>
<path d="M392.3,192.3 368.9,305.1" stroke-width="4.2"/>
<path d="M416.3,197.8L409.9,231.9Q409.3,234.8 410.0,237.7L414.9,256.8Q415.6,259.7 417.1,262.3L422.8,272.1Q424.3,274.7 425.6,277.4L433.0,292.0Q434.3,294.7 437.2,295.5L440.1,296.4Q443,297.2 442.2,300.1L438.8,311.7Q438,314.6 436.7,317.3L431.8,326.9Q430.5,329.6 431.6,332.4L433.2,336.8Q434.3,339.6 437.2,338.7L443.9,336.7Q446.8,335.8 447.5,338.7L450,349.6" stroke-width="4.2"/>
<path d="M450,349.5 452.5,364.5 460,374.5 465,388.2 482.4,387 503.7,389.5 508.6,383.2 513.6,393.2" stroke-width="4.2"/>
<path d="M187.2,246L197.0,250.9Q199.7,252.2 202.0,254.1L209.8,260.3Q212.1,262.2 212.5,265.2L214.2,276.7Q214.6,279.7 217.3,281.0L226.9,285.9Q229.6,287.2 232.6,287.4L246.6,288.2Q249.6,288.4 252.1,290.1L254.6,291.7Q257.1,293.4 260.1,293.6L279.0,294.5Q282,294.7 285.0,294.7L311.5,294.7Q314.5,294.7 317.4,295.3L368.9,305.1" stroke-width="4.2"/>
<path d="M368.9,305.1L372.5,309.7Q374.4,312.1 375.3,315.0L377.2,320.5Q378.1,323.4 376.7,326.0L370.8,337.0Q369.4,339.6 367.5,341.9L358.8,352.3Q356.9,354.6 355.2,357.1L349.9,364.5Q348.2,367 350.1,369.3L352.5,372.2Q354.4,374.5 353.1,377.2L350.7,381.8Q349.4,384.5 348.7,387.4L333.2,455.6" stroke-width="4.2"/>
<path d="M187.2,246L180.5,271.8Q179.7,274.7 178.8,277.6L173.1,296.8Q172.2,299.7 171.0,302.5L160.9,326.8Q159.7,329.6 158.4,332.3L151.1,346.9Q149.8,349.6 148.1,352.1L141.5,362.0Q139.8,364.5 138.5,367.2L136.1,371.8Q134.8,374.5 134.5,377.5L133.8,386.5Q133.5,389.5 133.2,392.5L132.6,400.2Q132.3,403.2 132.1,406.2L131.2,416.5Q131,419.5 130.3,422.4L125.5,441.5Q124.8,444.4 123.2,447.0L112.3,464.9" stroke-width="4.2"/>
<path d="M152.2,349.6 147.3,354.6" stroke-width="5"/>
<path d="M133.5,403.2 247,433 333.2,455.6 415.5,477.5 499.3,495.1" stroke-width="4.2"/>
<path d="M112.3,465L116.0,472.3Q117.3,475 117.9,477.9L119.2,484.6Q119.8,487.5 119.1,490.4L116.8,499.5Q116.1,502.4 115.7,505.4L114.0,518.2Q113.6,521.2 114.9,523.9L121.0,537.2Q122.3,539.9 123.2,542.8L125.1,549.5Q126,552.4 125.6,555.4L125.2,558.1Q124.8,561.1 126.8,563.3L132.8,570.1Q134.8,572.3 134.6,575.3L133.7,591.8Q133.5,594.8 135.1,597.3L143.2,609.8Q144.8,612.3 143.4,615.0L139.9,622.0Q138.5,624.7 139.2,627.6L141.6,636.8Q142.3,639.7 143.5,642.5L148.6,654.4Q149.8,657.2 151.1,659.9L157.2,672.0Q158.5,674.7 159.6,677.5L162.4,684.3Q163.5,687.1 162.9,690.0L160.3,702.9Q159.7,705.8 161.6,708.1L162.8,709.8Q164.7,712.1 167.5,713.2L181.9,718.5Q184.7,719.6 187.0,721.5L194.9,727.7Q197.2,729.6 198.2,732.4L198.7,734.2Q199.7,737 202.6,737.8L214.2,741.2Q217.1,742 218.0,744.9L220.0,751.6Q220.9,754.5 223.4,756.2L229.6,760.3Q232.1,762 234.0,764.3L242.7,774.7Q244.6,777 245.5,779.9L247.4,786.6Q248.3,789.5 248.1,792.5L247.3,801.4Q247.1,804.4 247.9,807.3L251.3,819.0Q252.1,821.9 252.9,824.8L257.1,839.9" stroke-width="4.2"/>
<path d="M136,572.3L138.8,563.9Q139.8,561.1 142.3,561.1L142.3,561.1Q144.8,561.1 147.2,562.9L147.4,563.0Q149.8,564.8 152.7,565.6L168.5,570.3" stroke-width="4.2"/>
<path d="M140.3,563.6 142.8,574.8 144.8,587.3" stroke-width="4.5"/>
<path d="M123.5,561.1 126,552.4" stroke-width="5"/>
<path d="M159.7,727.1 169.7,734.1 185.9,735" stroke-width="6"/>
<path d="M179.7,763.3 182.2,765.7" stroke-width="7"/>
<path d="M213.4,763.3 217.6,770.7" stroke-width="6.5"/>
<path d="M207.7,780.7 212.1,789.5" stroke-width="6.5"/>
<path d="M248.3,433.1 220.9,547.4 348.2,733.3" stroke-width="4.2"/>
<path d="M348.2,733.3L351.4,751.5Q351.9,754.5 353.8,756.8L356.3,759.7Q358.2,762 355.8,763.8L346.8,770.2Q344.4,772 343.5,774.8L340.3,784.2Q339.4,787 337.3,789.1L334.0,792.4Q331.9,794.5 332.5,797.4L333.8,804.0Q334.4,806.9 333.7,809.8L332.6,814.0Q331.9,816.9 329.5,818.7L324.4,822.6Q322,824.4 324.5,826.0L346.9,839.9" stroke-width="4.2"/>
<path d="M249.6,809.4 329.5,817.4" stroke-width="4.2"/>
<path d="M348.2,733.3L351.6,700.1Q351.9,697.1 354.2,695.2L357.1,692.8Q359.4,690.9 361.8,692.6L365.7,695.4Q368.1,697.1 370.0,694.8L372.5,691.9Q374.4,689.6 375.2,686.7L381.1,665.1Q381.9,662.2 382.4,659.2L415.6,477.5" stroke-width="4.2"/>
<path d="M381.9,662.2 450,675.9" stroke-width="4.2"/>
<path d="M518.6,375.7 503.7,465 494.4,526.9" stroke-width="4.2"/>
<path d="M494.4,526.9L548.2,536.9Q551.1,537.4 554.1,537.8L621.7,545.7Q624.7,546.1 627.7,546.4L694.1,552.6Q697.1,552.9 700.1,553.1L754.5,557.3" stroke-width="4.2"/>
<path d="M551.1,537.4 529.9,685.9 508.7,839.9" stroke-width="4.2"/>
<path d="M723.3,246 715.8,363.3 709.5,398.2 704.6,465 697.1,552.8" stroke-width="4.2"/>
<path d="M715.8,363.3 800,368.5 900,372 911,372" stroke-width="4.2"/>
<path d="M518.6,375.7 610,388 709.5,398.2" stroke-width="4.2"/>
<path d="M704.6,476.2L856.3,484.3Q859.3,484.5 861.8,486.2L863.1,487.0Q865.6,488.7 868.3,490.1L870.3,491.1Q873,492.5 875.9,491.9L881.4,490.6Q884.3,490 887.3,490.5L900,492.5" stroke-width="4.2"/>
<path d="M754.5,557.3 745.8,710.8" stroke-width="4.2"/>
<path d="M754,595.3 824.4,599.3 900,601" stroke-width="4.2"/>
<path d="M450,675.9L526.9,685.5Q529.9,685.9 532.9,686.3L621.7,698.0Q624.7,698.4 627.7,698.7L711.6,708.0Q714.6,708.3 717.6,708.5L742.8,710.6Q745.8,710.8 748.8,710.9L821.4,713.7Q824.4,713.8 827.4,713.8L900,714.6" stroke-width="4.2"/>
<path d="M714.6,708.3 712.1,725.8 702.1,839.9" stroke-width="4.2"/>
<path d="M712.1,725.8 805.7,732.1 803.2,804.4" stroke-width="4.2"/>
<path d="M803.2,804.4L809.6,809.9Q811.9,811.9 814.9,811.5L818.9,811.1Q821.9,810.7 823.9,813.0L827.4,817.1Q829.4,819.4 832.2,820.4L841.5,823.4Q844.3,824.4 847.3,824.4L856.3,824.4Q859.3,824.4 861.4,826.5L867.2,832.3Q869.3,834.4 872.1,833.3L876.5,831.7Q879.3,830.6 881.8,832.2L886.8,835.3Q889.3,836.9 892.0,835.6L900,831.9" stroke-width="4.2"/>
<path d="M912.5,466.2 987.4,466.2 1062.2,465" stroke-width="4.2"/>
<path d="M892.5,490L897.2,491.6Q900,492.5 902.7,493.8L907.3,496.1Q910,497.4 910.9,494.5L912.8,487.9Q913.7,485 914.1,482.0L914.6,478.0Q915,475 914.2,472.1L913.3,469.1Q912.5,466.2 913.3,463.3L916.2,452.9Q917,450 917.0,447.0L917.5,397.6" stroke-width="4.2"/>
<path d="M910,497.4L917.0,507.4Q918.7,509.9 919.9,512.7L923.8,522.1Q925,524.9 926.0,527.7L930.2,539.6Q931.2,542.4 931.7,545.3L934.4,559.4Q934.9,562.3 935.2,565.3L935.9,571.8Q936.2,574.8 937.5,577.5L939.9,582.1Q941.2,584.8 942.2,587.6L943.9,592.0Q944.9,594.8 947.0,596.9L951.6,601.4Q953.7,603.5 956.4,604.9L958.4,605.9Q961.1,607.3 959.9,610.1L958.6,613.2Q957.4,616 959.1,618.5L963.2,624.7Q964.9,627.2 966.8,629.5L969.2,632.4Q971.1,634.7 971.1,637.7L972.4,731.6Q972.4,734.6 972.9,737.6L978.1,771.5Q978.6,774.5 978.7,777.5L979.9,839.9" stroke-width="4.2"/>
<path d="M937.4,577.3 1053.5,574.1 1062.2,582.3" stroke-width="4.2"/>
<path d="M900,601 944.9,601" stroke-width="4.2"/>
<path d="M900,714.6 971.1,714.6" stroke-width="4.2"/>
<path d="M972.4,734.6L1105.4,728.4Q1108.4,728.3 1110.1,730.7L1112.9,734.6Q1114.6,737 1112.5,739.1L1105.5,746.2Q1103.4,748.3 1106.4,748.1L1123.4,747" stroke-width="4.2"/>
<path d="M900,831.9L912.2,836.0Q915,836.9 918.0,836.6L927.0,835.9Q930,835.6 932.9,834.7L939.5,832.8Q942.4,831.9 945.4,832.4L954.4,833.9Q957.4,834.4 960.2,835.4L972.4,839.9" stroke-width="4.2"/>
<path d="M1062.2,465L1064.6,469.8Q1066,472.5 1066.7,475.4L1069.0,484.6Q1069.7,487.5 1072.1,489.4L1079.8,495.5Q1082.2,497.4 1084.3,499.5L1090.1,505.3Q1092.2,507.4 1093.4,510.1L1096.0,516.0Q1097.2,518.7 1096.2,521.5L1093.2,529.6Q1092.2,532.4 1089.7,534.0L1084.7,537.0Q1082.2,538.6 1079.7,540.2L1074.7,543.3Q1072.2,544.9 1072.9,547.8L1074.0,553.2Q1074.7,556.1 1074.0,559.0L1072.9,564.4Q1072.2,567.3 1070.2,569.5L1064.2,576.4Q1062.2,578.6 1061.9,581.6L1061.3,589.3Q1061,592.3 1061.9,595.2L1063.8,601.9Q1064.7,604.8 1066.6,607.1L1072.8,614.9Q1074.7,617.2 1076.8,619.3L1082.6,625.1Q1084.7,627.2 1086.3,629.7L1089.3,634.7Q1090.9,637.2 1093.9,637.5L1101.7,638.2Q1104.7,638.5 1104.0,641.4L1100.4,656.8Q1099.7,659.7 1101.5,662.1L1105.4,667.3Q1107.2,669.7 1109.5,671.6L1117.3,677.7Q1119.6,679.6 1121.4,682.0L1125.3,687.2Q1127.1,689.6 1127.7,692.5L1129.0,698.0Q1129.6,700.9 1131.9,702.8L1136.1,706.4Q1138.4,708.3 1139.0,711.2L1140.2,716.7Q1140.8,719.6 1138.1,720.9L1131.1,724.5Q1128.4,725.8 1127.9,728.8L1125.1,744.0Q1124.6,747 1123.6,749.8L1121.9,754.2Q1120.9,757 1119.5,759.7L1116.0,766.8Q1114.6,769.5 1114.3,772.5L1113.7,780.2Q1113.4,783.2 1111.3,785.3L1109.3,787.4Q1107.2,789.5 1106.0,792.3L1100.9,804.1Q1099.7,806.9 1098.4,809.6L1093.5,819.2Q1092.2,821.9 1090.4,824.3L1086.5,829.5Q1084.7,831.9 1083.8,834.8L1082.2,839.9" stroke-width="4.2"/>
<path d="M1083.4,498.7 1159.6,495" stroke-width="4.2"/>
<path d="M1154.6,465L1159.9,482.1Q1160.8,485 1160.8,488.0L1160.8,494.4Q1160.8,497.4 1162.1,500.1L1167.0,509.7Q1168.3,512.4 1169.7,515.0L1173.1,521.1Q1174.5,523.7 1177.5,524.2L1179.0,524.4Q1182,524.9 1184.3,523.0L1192.2,516.8Q1194.5,514.9 1195.7,512.2L1202.0,497.7Q1203.2,495 1203.6,492.0L1205.3,480.5Q1205.7,477.5 1205.1,474.6L1203.2,465" stroke-width="4.2"/>
<path d="M1173.3,524.9L1180.6,611.8Q1180.8,614.8 1179.8,617.6L1179.3,619.4Q1178.3,622.2 1179.4,625.0L1182.2,631.9Q1183.3,634.7 1182.4,637.6L1180.4,644.3Q1179.5,647.2 1177.7,649.6L1172.6,656.0Q1170.8,658.4 1170.8,661.4L1170.8,672.2" stroke-width="4.2"/>
<path d="M1195.8,518.7 1250.7,513.7 1289.4,509.4" stroke-width="4.2"/>
<path d="M1250.7,513.7 1263.1,624.7" stroke-width="4.2"/>
<path d="M1140.8,710.8L1140.0,703.9Q1139.6,700.9 1142.5,700.2L1146.7,699.1Q1149.6,698.4 1152.4,699.4L1156.8,701.1Q1159.6,702.1 1159.2,699.1L1158.7,695.1Q1158.3,692.1 1160.8,690.4L1164.6,687.6Q1167.1,685.9 1167.9,683.0L1170.0,675.1Q1170.8,672.2 1173.5,671.0L1179.3,668.4Q1182,667.2 1184.1,669.3L1184.9,670.1Q1187,672.2 1189.7,670.8L1191.8,669.8Q1194.5,668.4 1196.9,670.2L1197.1,670.4Q1199.5,672.2 1201.2,669.7L1202.8,667.2Q1204.5,664.7 1207.3,665.6L1209.2,666.3Q1212,667.2 1213.4,664.6L1216.8,658.5Q1218.2,655.9 1221.1,656.5L1221.6,656.6Q1224.5,657.2 1226.8,659.1L1228.4,660.3Q1230.7,662.2 1231.6,659.3L1233.5,653.8Q1234.4,650.9 1236.5,648.8L1238.6,646.8Q1240.7,644.7 1241.8,641.9L1244.6,635.0Q1245.7,632.2 1248.6,631.4L1251.5,630.5Q1254.4,629.7 1257.0,628.2L1260.5,626.2Q1263.1,624.7 1263.5,621.7L1264.0,617.8Q1264.4,614.8 1267.4,614.3L1268.9,614.0Q1271.9,613.5 1274.2,615.5L1279.6,620.2Q1281.9,622.2 1284.7,623.4L1294.0,627.3Q1296.8,628.5 1299.7,627.6L1306.4,625.6Q1309.3,624.7 1312.3,624.3L1316.3,623.9Q1319.3,623.5 1321.7,625.3L1326.9,629.2Q1329.3,631 1331.8,629.4L1336.8,626.3Q1339.3,624.7 1340.4,621.9L1343.2,615.1Q1344.3,612.3 1346.1,609.9L1350,604.8" stroke-width="4.2"/>
<path d="M1329.3,631L1333.3,641.9Q1334.3,644.7 1336.3,646.9L1344.8,656.2Q1346.8,658.4 1348.4,660.3L1350,662.2" stroke-width="4.2"/>
<path d="M1350,667.2L1336.3,682.4Q1334.3,684.6 1332.2,686.7L1323.9,695.0Q1321.8,697.1 1319.1,698.4L1306.8,704.6" stroke-width="4.2"/>
<path d="M1128.4,725.8L1170.3,723.5Q1173.3,723.3 1173.3,720.3L1173.3,720.1Q1173.3,717.1 1176.2,716.5L1176.6,716.4Q1179.5,715.8 1182.5,715.5L1303.8,704.9Q1306.8,704.6 1309.8,704.3L1350,699.6" stroke-width="4.2"/>
<path d="M1350,719.6L1341.8,725.4Q1339.3,727.1 1337.2,729.2L1331.4,734.9Q1329.3,737 1326.5,738.2L1314.6,743.3Q1311.8,744.5 1309.7,746.6L1303.9,752.4Q1301.8,754.5 1300.7,757.3L1296.8,767" stroke-width="4.2"/>
<path d="M1112.1,784.5L1172.8,780.9Q1175.8,780.7 1178.8,780.5L1253.9,774.7Q1256.9,774.5 1259.8,773.9L1293.9,767.6Q1296.8,767 1299.8,766.5L1326.3,762.5Q1329.3,762 1332.2,761.1L1350,755.8" stroke-width="4.2"/>
<path d="M1177,780.7 1177,839.9" stroke-width="4.2"/>
<path d="M1256.9,774.5 1273.1,839.9" stroke-width="4.2"/>
<path d="M1329.3,762L1327.4,771.6Q1326.8,774.5 1329.1,776.4L1337.0,782.6Q1339.3,784.5 1341.8,786.2L1350,792" stroke-width="4.2"/>
<path d="M1372.5,488.7 1377.5,542.4 1383.7,574.8" stroke-width="4.2"/>
<path d="M1389.9,476.2L1392.5,481.8Q1393.7,484.5 1396.6,483.9L1496.9,464.4Q1499.8,463.8 1502.8,463.9L1524.7,465" stroke-width="4.2"/>
<path d="M1383.7,574.8 1524.7,544.9" stroke-width="4.2"/>
<path d="M1533.4,472.5L1530.1,494.4Q1529.7,497.4 1530.8,500.2L1533.6,507.1Q1534.7,509.9 1536.9,511.9L1547.5,521.7Q1549.7,523.7 1547.9,526.1L1541.5,535.0Q1539.7,537.4 1536.8,538.3L1530.1,540.2Q1527.2,541.1 1526.0,543.0L1524.7,544.9" stroke-width="4.2"/>
<path d="M1414.9,568.6L1417.0,585.5Q1417.4,588.5 1419.4,586.3L1425.4,579.5Q1427.4,577.3 1429.4,575.0L1432.9,570.9Q1434.9,568.6 1437.9,568.2L1441.8,567.7Q1444.8,567.3 1447.7,566.6L1456.9,564.3Q1459.8,563.6 1461.6,566.0L1464.3,569.9Q1466.1,572.3 1468.8,573.5L1472.1,574.9Q1474.8,576.1 1477.6,577.2L1489.8,582.3" stroke-width="4.2"/>
<path d="M1467.3,581.1L1452.5,573.6Q1449.8,572.3 1449.3,575.2L1446.6,589.4Q1446.1,592.3 1444.0,594.4L1439.5,598.9Q1437.4,601 1436.1,603.7L1433.7,608.3Q1432.4,611 1429.7,612.3L1425.1,614.7Q1422.4,616 1419.9,614.8L1419.9,614.8Q1417.4,613.5 1416.4,616.3L1410.9,631.9Q1409.9,634.7 1409.4,637.6L1406.7,651.8Q1406.2,654.7 1403.5,656.0L1390.1,662.1Q1387.4,663.4 1384.6,664.5L1377.8,667.3Q1375,668.4 1372.3,669.8L1370.2,670.8Q1367.5,672.2 1364.9,670.7L1357.6,666.2Q1355,664.7 1352.5,663.5L1350,662.2" stroke-width="4.2"/>
<path d="M1377.5,542.4L1374.1,566.8Q1373.7,569.8 1373.5,572.8L1372.7,581.8Q1372.5,584.8 1369.7,585.9L1362.8,588.7Q1360,589.8 1358.1,592.1L1355.6,595.0Q1353.7,597.3 1352.8,600.2L1350,609.8" stroke-width="4.2"/>
<path d="M1350,699.6 1449.8,681.6 1538.4,665.9" stroke-width="4.2"/>
<path d="M1350,717.1L1357.0,716.2Q1360,715.8 1361.2,713.1L1363.8,707.3Q1365,704.6 1366.1,701.8L1367.5,698.4" stroke-width="4.2"/>
<path d="M1483.5,782L1474.5,790.0Q1472.3,792 1471.1,794.8L1467.3,804.1Q1466.1,806.9 1464.7,809.6L1461.2,816.7Q1459.8,819.4 1457.7,821.5L1454.4,824.8Q1452.3,826.9 1450.8,829.5L1444.8,839.9" stroke-width="4.2"/>
<path d="M1350,752L1372.0,749.8Q1375,749.5 1378.0,749.3L1394.4,748.5Q1397.4,748.3 1399.5,750.4L1405.3,756.2Q1407.4,758.3 1410.4,758.0L1440.6,754.8Q1443.6,754.5 1446.0,756.4L1479.8,783.2" stroke-width="4.2"/>
<path d="M1350,787L1362.7,797.5Q1365,799.4 1366.8,801.8L1378.2,817.0Q1380,819.4 1381.8,821.8L1394.9,839.9" stroke-width="4.2"/>
<path d="M257.1,832.5L257.1,837.0Q257.1,840 257.6,843.0L259.1,852.0Q259.6,855 260.4,857.9L263.8,869.5Q264.6,872.4 265.9,875.1L268.3,879.7Q269.6,882.4 269.8,885.4L270.6,896.9Q270.8,899.9 271.0,902.9L271.8,911.9Q272,914.9 273.7,917.4L280.3,927.4Q282,929.9 284.1,932.0L292.4,940.2Q294.5,942.3 296.0,944.9L303.0,957.2Q304.5,959.8 306.0,962.4L313.0,974.7Q314.5,977.3 315.2,980.2L316.3,984.4Q317,987.3 315.9,990.1L313.1,996.9Q312,999.7 309.9,1001.8L309.1,1002.6Q307,1004.7 304.0,1005.0L297.5,1005.7Q294.5,1006 291.7,1005.1L282.3,1001.9Q279.5,1001 281.2,1003.5L285.3,1009.7Q287,1012.2 288.5,1014.8L293.0,1022.1Q294.5,1024.7 296.6,1026.8L304.9,1035.1Q307,1037.2 308.9,1039.5L317.6,1049.8Q319.5,1052.1 322.3,1051.2L331.6,1048.1Q334.4,1047.2 334.8,1050.2L335.3,1054.1Q335.7,1057.1 337.4,1059.6L342.7,1067.1Q344.4,1069.6 346.8,1071.4L357.0,1079.0Q359.4,1080.8 360.3,1083.7L363.5,1094.2Q364.4,1097.1 364.0,1100.1L362.3,1111.5Q361.9,1114.5 361.2,1117.4L358.9,1126.6Q358.2,1129.5 356.1,1131.6L354.0,1133.7Q351.9,1135.8 353.6,1138.3L357.7,1144.5Q359.4,1147 361.1,1149.5L369.4,1162" stroke-width="4.2"/>
<path d="M359.4,1117 366.9,1144.5" stroke-width="4.2"/>
<path d="M305.7,1003.5 309.5,1012.2" stroke-width="5"/>
<path d="M317,852.5L311.6,869.5Q310.7,872.4 310.9,875.4L311.8,886.9Q312,889.9 312.0,892.9L312.0,909.4Q312,912.4 313.3,915.1L320.7,929.6Q322,932.3 323.7,934.7L332.7,947.4Q334.4,949.8 335.1,952.7L338.7,966.9Q339.4,969.8 341.3,972.1L347.5,980.0Q349.4,982.3 351.0,984.9L355.3,992.1Q356.9,994.7 357.1,997.7L358.0,1011.7Q358.2,1014.7 359.7,1017.3L365.4,1027.1Q366.9,1029.7 368.4,1032.3L375.4,1044.6Q376.9,1047.2 378.4,1049.8L384.1,1059.5Q385.6,1062.1 386.7,1064.9L390.7,1074.3Q391.8,1077.1 392.2,1080.1L393.9,1091.6Q394.3,1094.6 395.2,1097.4L398.4,1106.8Q399.3,1109.6 400.1,1112.5L403.5,1124.1Q404.3,1127 405.1,1129.9L408.5,1141.6Q409.3,1144.5 410.6,1147.2L419.3,1164.5" stroke-width="4.2"/>
<path d="M317,850L329.8,862.9Q331.9,865 334.9,865.0L341.4,865.0Q344.4,865 346.3,867.3L352.5,875.1Q354.4,877.4 356.9,879.1L366.9,885.7Q369.4,887.4 368.1,890.1L365.7,894.7Q364.4,897.4 365.2,900.3L368.6,912.0Q369.4,914.9 370.0,917.8L373.8,936.9Q374.4,939.8 375.5,942.6L380.8,957.0Q381.9,959.8 383.0,962.6L388.3,977.0Q389.4,979.8 391.1,982.3L397.6,992.2Q399.3,994.7 400.8,997.3L407.8,1009.6Q409.3,1012.2 411.2,1014.5L417.4,1022.4Q419.3,1024.7 422.2,1025.4L427.6,1026.5Q430.5,1027.2 430.2,1030.2L429.6,1036.7Q429.3,1039.7 430.6,1042.4L435.5,1051.9Q436.8,1054.6 439.4,1056.1L450,1062.1" stroke-width="4.2"/>
<path d="M321.9,824.4 434.2,892.4 450,893.7" stroke-width="4.2"/>
<path d="M321.9,824.4 312,835 316.9,850" stroke-width="4.2"/>
<path d="M179.2,927.4 180.2,934.8" stroke-width="9"/>
<path d="M275.8,982.3 273.3,989.8" stroke-width="9"/>
<path d="M339.4,944.8L342.9,946.2Q345.7,947.3 346.8,950.1L350.8,959.5Q351.9,962.3 350.1,964.7L350.0,964.9Q348.2,967.3 346.6,964.8L343.5,959.8Q341.9,957.3 341.3,954.4L339.4,944.8" stroke-width="4.2"/>
<path d="M371.9,977.3L376.9,966.2Q378.1,963.5 380.2,965.6L381.0,966.4Q383.1,968.5 382.2,971.3L379.0,980.7Q378.1,983.5 376.0,981.4L371.9,977.3" stroke-width="4.2"/>
<path d="M380.6,1059.6 383.1,1068.4" stroke-width="5"/>
<path d="M399.3,1094.6 396.8,1100.8" stroke-width="5"/>
<path d="M408.1,1134.5 411.8,1139.5" stroke-width="6"/>
<path d="M508.7,840 499.9,901.1" stroke-width="4.2"/>
<path d="M450,893.7L496.9,900.7Q499.9,901.1 502.9,901.6L524.4,905.6Q527.4,906.1 527.9,903.1L529.4,892.9Q529.9,889.9 532.9,890.3L581.8,897.0Q584.8,897.4 583.8,894.6L582.0,889.0Q581,886.2 584.0,886.5L696.6,898.4Q699.6,898.7 699.9,895.7L704.6,840" stroke-width="4.2"/>
<path d="M584.8,897.4L590.5,905.0Q592.3,907.4 594.4,909.5L602.6,917.8Q604.7,919.9 606.8,922.0L617.6,932.7Q619.7,934.8 622.0,936.7L629.9,942.9Q632.2,944.8 633.3,947.6L637.3,957.0Q638.4,959.8 638.7,962.8L639.4,969.3Q639.7,972.3 641.0,975.0L645.9,984.6Q647.2,987.3 649.6,989.1L659.7,996.7Q662.1,998.5 664.7,1000.0L672.0,1004.5Q674.6,1006 677.1,1007.6L682.1,1010.6Q684.6,1012.2 687.0,1010.5L690.9,1007.7Q693.3,1006 694.8,1003.4L695.6,1002.3Q697.1,999.7 698.0,996.9L698.7,995.0Q699.6,992.2 701.7,990.1L705.0,986.9Q707.1,984.8 710.0,984.1L714.2,983.0Q717.1,982.3 720.0,982.9L724.1,983.7Q727,984.3 730.0,984.6L741.5,985.7Q744.5,986 746.6,988.1L751.1,992.6Q753.2,994.7 755.2,996.9L761.2,1003.8Q763.2,1006 765.1,1008.4L770.1,1014.8Q772,1017.2 773.2,1020.0L778.3,1031.9Q779.5,1034.7 780.8,1037.4L783.1,1042.0Q784.4,1044.7 786.1,1047.2L792.7,1057.1Q794.4,1059.6 796.2,1062.0L802.6,1071.0Q804.4,1073.4 805.9,1076.0L807.9,1079.5Q809.4,1082.1 809.4,1085.1L809.4,1091.6Q809.4,1094.6 810.9,1097.2L815.4,1104.5Q816.9,1107.1 818.0,1109.9L820.8,1116.7Q821.9,1119.5 824.7,1120.7L836.6,1125.8Q839.4,1127 842.2,1128.0L854.0,1132.3Q856.8,1133.3 859.7,1133.9L871.4,1136.4Q874.3,1137 877.1,1138.1L886.8,1142" stroke-width="4.2"/>
<path d="M900,1052.1L894.0,1057.6Q891.8,1059.6 890.7,1062.4L887.9,1069.3Q886.8,1072.1 885.5,1074.8L880.6,1084.4Q879.3,1087.1 878.8,1090.1L877.3,1099.1Q876.8,1102.1 877.6,1105.0L881.0,1116.6Q881.8,1119.5 882.7,1122.3L885.9,1131.7Q886.8,1134.5 887.6,1137.4L889.3,1143.2" stroke-width="5"/>
<path d="M889.3,1064.6L885.2,1076.8Q884.3,1079.6 883.7,1082.5L881.1,1096.7Q880.5,1099.6 881.1,1102.5L884.9,1121.6Q885.5,1124.5 886.4,1127.3L890.5,1139.5" stroke-width="4.2"/>
<path d="M866.8,1080.8 879.3,1084.6" stroke-width="5"/>
<path d="M879.3,1065.9 889.3,1064.6" stroke-width="4"/>
<path d="M450,1072.1L457.3,1075.8Q460,1077.1 461.8,1079.5L465.7,1084.7Q467.5,1087.1 468.3,1090.0L469.2,1092.9Q470,1095.8 467.5,1097.4L462.5,1100.5Q460,1102.1 459.7,1105.1L459.0,1111.5Q458.7,1114.5 460.8,1116.6L465.4,1121.2Q467.5,1123.3 470.0,1121.6L472.5,1120.0Q475,1118.3 473.3,1120.8L471.7,1123.3Q470,1125.8 473.0,1126.3L474.5,1126.5Q477.5,1127 479.6,1129.1L485.3,1134.9Q487.4,1137 489.9,1138.6L497.4,1143.4Q499.9,1145 501.9,1147.2L514.9,1162" stroke-width="4.2"/>
<path d="M957.4,840L969.4,842.0Q972.4,842.5 975.2,843.5L979.6,845.2Q982.4,846.2 985.4,845.8L989.3,845.4Q992.3,845 992.5,848.0L993.4,863.2Q993.6,866.2 993.6,869.2L993.6,903.1Q993.6,906.1 995.3,908.6L998.1,912.4Q999.8,914.9 1000.9,917.7L1003.7,924.6Q1004.8,927.4 1005.8,930.2L1008.8,939.5Q1009.8,942.3 1009.4,945.3L1007.7,956.8Q1007.3,959.8 1007.1,962.8L1006.3,976.8Q1006.1,979.8 1004.5,982.3L999.8,989.8" stroke-width="4.2"/>
<path d="M993.6,866.2 1084.7,863" stroke-width="4.2"/>
<path d="M1082.2,840L1085.0,849.6Q1085.9,852.5 1085.6,855.5L1085.0,860.0Q1084.7,863 1085.8,865.8L1087.3,869.6Q1088.4,872.4 1087.9,875.4L1087.7,876.9Q1087.2,879.9 1088.9,882.4L1093.0,888.7Q1094.7,891.2 1093.0,893.7L1088.9,899.9Q1087.2,902.4 1085.4,904.8L1081.5,910.0Q1079.7,912.4 1078.8,915.3L1076.9,922.0Q1076,924.9 1075.3,927.8L1074.2,931.9Q1073.5,934.8 1073.0,937.8L1072.7,939.3Q1072.2,942.3 1075.2,942.1L1132.9,937.5Q1135.9,937.3 1135.9,940.3L1135.9,946.8Q1135.9,949.8 1137.2,952.5L1139.5,957.1Q1140.8,959.8 1141.5,962.7L1143.3,969.8" stroke-width="4.2"/>
<path d="M1175.8,840 1175.8,899.9 1183.3,959.8" stroke-width="4.2"/>
<path d="M1209.5,957.3L1212.2,950.1Q1213.2,947.3 1211.8,944.7L1207.1,936.2Q1205.7,933.6 1208.7,933.2L1289.4,922.4" stroke-width="4.2"/>
<path d="M1273.1,840L1278.2,852.2Q1279.4,855 1280.7,857.7L1286.8,869.7Q1288.1,872.4 1287.5,875.3L1285.0,887.0Q1284.4,889.9 1285.3,892.7L1288.5,902.1Q1289.4,904.9 1289.4,907.9L1289.4,919.4Q1289.4,922.4 1291.1,924.9L1295.1,931.1Q1296.8,933.6 1299.8,933.4L1350,929.9" stroke-width="4.2"/>
<path d="M900,1059.6L905.9,1049.8Q907.5,1047.2 906.9,1044.3L905.6,1037.6Q905,1034.7 907.4,1036.5L912.6,1040.4Q915,1042.2 917.9,1041.5L922.1,1040.4Q925,1039.7 927.5,1038.0L937.4,1031.4Q939.9,1029.7 942.2,1027.7L955.1,1016.7Q957.4,1014.7 959.1,1012.2L960.7,1009.7Q962.4,1007.2 962.1,1004.2L961.4,997.7Q961.1,994.7 964.1,994.3L968.1,993.9Q971.1,993.5 970.8,996.5L970.2,1001.7Q969.9,1004.7 972.6,1003.4L979.7,999.8Q982.4,998.5 985.2,997.5L997.0,993.2Q999.8,992.2 1002.8,991.9L1014.3,990.8Q1017.3,990.5 1020.1,991.5L1029.5,995.0Q1032.3,996 1035.3,996.5L1044.3,998.0Q1047.3,998.5 1050.3,998.2L1059.2,997.5Q1062.2,997.2 1061.1,994.4L1060.8,993.8Q1059.7,991 1062.4,989.7L1064.5,988.6Q1067.2,987.3 1069.7,988.9L1072.2,990.6Q1074.7,992.2 1077.1,994.0L1082.3,997.9Q1084.7,999.7 1087.2,998.5L1087.2,998.5Q1089.7,997.2 1089.7,1000.2L1089.7,1004.2Q1089.7,1007.2 1092.5,1008.1L1101.9,1011.3Q1104.7,1012.2 1107.2,1010.5L1109.6,1008.9Q1112.1,1007.2 1114.9,1006.3L1116.8,1005.6Q1119.6,1004.7 1121.7,1006.8L1125.0,1010.1Q1127.1,1012.2 1128.0,1009.4L1128.7,1007.5Q1129.6,1004.7 1128.8,1001.8L1127.9,998.9Q1127.1,996 1130.1,996.5L1131.6,996.7Q1134.6,997.2 1136.3,999.7L1137.9,1002.2Q1139.6,1004.7 1142.4,1003.8L1144.3,1003.1Q1147.1,1002.2 1148.4,1004.9L1150.8,1009.5Q1152.1,1012.2 1154.9,1013.1L1156.8,1013.8Q1159.6,1014.7 1161.4,1012.3L1165.3,1007.1Q1167.1,1004.7 1164.3,1003.6L1157.4,1000.8Q1154.6,999.7 1152.1,998.0L1149.6,996.4Q1147.1,994.7 1145.0,992.6L1144.2,991.9Q1142.1,989.8 1144.0,987.5L1146.4,984.6Q1148.3,982.3 1148.8,979.3L1149.1,977.8Q1149.6,974.8 1146.6,974.8L1139.6,974.8" stroke-width="4.2"/>
<path d="M1117.1,969.8L1122.3,965.4Q1124.6,963.5 1127.5,964.4L1134.2,966.4Q1137.1,967.3 1138.0,970.1L1138.7,972.0Q1139.6,974.8 1136.7,975.5L1132.5,976.6Q1129.6,977.3 1126.6,976.9L1122.6,976.4Q1119.6,976 1118.5,973.2L1117.1,969.8" stroke-width="4.2"/>
<path d="M1139.6,974.8L1141.5,972.2Q1143.3,969.8 1145.6,967.9L1149.8,964.2Q1152.1,962.3 1155.0,961.6L1164.2,959.3Q1167.1,958.6 1170.1,958.8L1180.3,959.6Q1183.3,959.8 1186.2,960.6L1189.1,961.5Q1192,962.3 1192.5,959.3L1194.0,950.3Q1194.5,947.3 1195.6,950.1L1198.4,957.0Q1199.5,959.8 1202.4,959.1L1206.6,958.0Q1209.5,957.3 1212.2,956.0L1221.8,951.1Q1224.5,949.8 1227.5,949.8L1238.9,949.8Q1241.9,949.8 1244.9,949.5L1251.4,948.9Q1254.4,948.6 1257.1,949.9L1264.2,953.5Q1266.9,954.8 1269.9,955.3L1271.4,955.6Q1274.4,956.1 1276.4,958.3L1282.4,965.1Q1284.4,967.3 1286.1,969.8L1287.7,972.3Q1289.4,974.8 1292.4,974.8L1296.3,974.8Q1299.3,974.8 1301.7,973.0L1306.9,969.1Q1309.3,967.3 1311.4,965.2L1317.2,959.4Q1319.3,957.3 1322.1,956.3L1326.5,954.6Q1329.3,953.6 1332.0,954.9L1336.6,957.3Q1339.3,958.6 1341.6,960.5L1350,967.3" stroke-width="4.2"/>
<path d="M1169.6,973.5 1170.3,978.5" stroke-width="4"/>
<path d="M1169.1,982.3 1167.1,987.3" stroke-width="4"/>
<path d="M1154.6,969.8 1157.1,972.3" stroke-width="4"/>
<path d="M1062.2,993.5 1069.7,997.2" stroke-width="6"/>
<path d="M998.6,987.3 1002.3,991" stroke-width="6"/>
<path d="M902.5,1047.2 910,1042.2" stroke-width="6"/>
<path d="M1394.9,840L1404.8,846.0Q1407.4,847.5 1408.7,850.2L1413.6,859.8Q1414.9,862.5 1417.3,860.7L1422.5,856.8Q1424.9,855 1427.0,852.9L1430.3,849.6Q1432.4,847.5 1434.8,845.7L1442.3,840" stroke-width="4.2"/>
<path d="M1414.9,862.5L1412.9,874.4Q1412.4,877.4 1411.9,880.3L1409.2,894.5Q1408.7,897.4 1408.5,900.4L1407.6,914.4Q1407.4,917.4 1408.6,920.2L1413.7,932.0Q1414.9,934.8 1416.2,937.5L1423.6,952.1Q1424.9,954.8 1426.4,957.4L1433.4,969.7Q1434.9,972.3 1436.4,974.9L1443.3,987.2Q1444.8,989.8 1446.3,992.4L1453.3,1004.6Q1454.8,1007.2 1456.3,1009.8L1465.8,1027.1Q1467.3,1029.7 1468.8,1032.3L1478.3,1049.5Q1479.8,1052.1 1480.6,1055.0L1484.0,1066.7Q1484.8,1069.6 1485.0,1072.6L1485.8,1086.6Q1486,1089.6 1485.6,1092.6L1483.9,1106.6Q1483.5,1109.6 1482.6,1112.5L1480.7,1119.1Q1479.8,1122 1477.4,1123.8L1472.2,1127.7Q1469.8,1129.5 1466.8,1129.5L1462.8,1129.5Q1459.8,1129.5 1457.7,1127.4L1454.8,1124.5" stroke-width="4.2"/>
<path d="M1422.4,850 1429.9,852.5" stroke-width="5"/>
<path d="M1413.6,865 1409.9,894.9 1407.9,914.9" stroke-width="4.5"/>
<path d="M1443.6,989.8 1456.1,1006" stroke-width="7"/>
<path d="M1456.1,1006 1474.8,1039.7" stroke-width="4"/>
<path d="M1484.8,1117 1474.8,1134.5 1464.8,1144.5" stroke-width="4.5"/>
<path d="M1350,929.9L1384.4,927.6Q1387.4,927.4 1388.2,930.3L1389.1,933.2Q1389.9,936.1 1391.8,934.2L1391.8,934.2Q1393.7,932.3 1393.4,929.3L1392.7,922.9Q1392.4,919.9 1395.4,919.6L1407.4,918.6" stroke-width="4.2"/>
<path d="M1350,969.8L1360.2,977.9Q1362.5,979.8 1365.1,981.3L1372.4,985.8Q1375,987.3 1377.1,989.4L1380.3,992.6Q1382.4,994.7 1382.6,997.7L1383.5,1011.7Q1383.7,1014.7 1383.2,1017.7L1381.7,1026.7Q1381.2,1029.7 1382.5,1032.4L1383.6,1034.5Q1384.9,1037.2 1387.5,1035.7L1391.1,1033.7Q1393.7,1032.2 1392.5,1035.0L1388.6,1044.4Q1387.4,1047.2 1389.3,1049.5L1395.5,1057.3Q1397.4,1059.6 1399.5,1061.7L1405.3,1067.5Q1407.4,1069.6 1408.7,1072.3L1411.1,1076.9Q1412.4,1079.6 1415.3,1078.9L1419.5,1077.8Q1422.4,1077.1 1420.7,1079.6L1419.1,1082.1Q1417.4,1084.6 1419.1,1087.1L1425.7,1097.1Q1427.4,1099.6 1430.2,1100.6L1439.5,1103.6Q1442.3,1104.6 1444.1,1107.0L1448.0,1112.1Q1449.8,1114.5 1451.1,1117.2L1454.8,1124.5" stroke-width="4.2"/>
<path d="M1384.9,1029.7 1394.9,1032.2 1387.4,1044.7" stroke-width="4.2"/>
<path d="M1409.9,1065.9 1413.6,1083.3" stroke-width="6"/>
<path d="M1454.8,1123.3 1461.1,1128.3" stroke-width="5"/>
<path d="M1518.5,1057.1L1526.0,1061.8Q1528.5,1063.4 1531.3,1062.2L1554.4,1052.1Q1557.2,1050.9 1554.2,1051.2L1535.2,1053.1Q1532.2,1053.4 1531.1,1056.2L1529.7,1059.6" stroke-width="6.5"/>
<path d="M1553.4,1042.2L1564.1,1041.2Q1567.1,1040.9 1569.8,1042.3L1576.9,1045.8Q1579.6,1047.2 1581.6,1049.4L1586.4,1054.9Q1588.4,1057.1 1587.8,1060.0L1585.2,1071.7Q1584.6,1074.6 1582.1,1074.0L1582.1,1074.0Q1579.6,1073.4 1580.4,1070.5L1582.6,1062.5Q1583.4,1059.6 1581.7,1057.2L1574.6,1047.2" stroke-width="6"/>
<path d="M1557.2,1109.6L1561.6,1110.3Q1564.6,1110.8 1566.4,1113.2L1572.8,1122.1Q1574.6,1124.5 1575.3,1127.4L1576.4,1131.6Q1577.1,1134.5 1575.0,1136.6L1571.7,1139.9Q1569.6,1142 1567.2,1140.2L1562.1,1136.3Q1559.7,1134.5 1557.2,1133.9L1557.2,1133.9Q1554.7,1133.3 1555.9,1130.6L1558.5,1124.7Q1559.7,1122 1559.1,1119.1L1557.2,1109.6" stroke-width="4.2"/>
<path d="M1569.6,1142 1584.6,1145.7" stroke-width="5"/>
<path d="M1580.9,1111.3 1589.6,1108.8" stroke-width="7.5"/>
<path d="M1604.6,1085.8L1621.6,1091.2Q1624.5,1092.1 1626.6,1094.2L1629.9,1097.5Q1632,1099.6 1632.0,1102.6L1632.0,1111.5Q1632,1114.5 1629.4,1113.0L1625.8,1110.8" stroke-width="7"/>
<path d="M1647,1110.8L1658.6,1122.4Q1660.7,1124.5 1663.5,1125.6L1664.2,1125.9Q1667,1127 1664.6,1128.8L1662,1130.8" stroke-width="7"/>
<path d="M1645.8,1153.2 1659.5,1158.2" stroke-width="6.5"/>
<path d="M1670.7,1148.2 1681.9,1162 1694.4,1173.2" stroke-width="7"/>
<path d="M1695.7,1123.3 1695.7,1129.5" stroke-width="8"/>
<path d="M1714.4,1171.9L1727.6,1171.9Q1730.6,1171.9 1730.3,1174.9L1729.7,1181.4Q1729.4,1184.4 1727.3,1186.5L1719.4,1194.4" stroke-width="7.5"/>
<path d="M1759.3,1176.9 1774.3,1176.9" stroke-width="7"/>
<path d="M1771.8,1206.9 1774.3,1209.4" stroke-width="6"/>
<path d="M951.2,101.2 951.2,253.5" stroke-width="4.2"/>
<path d="M951.2,253.5L951.2,241.5Q951.2,238.5 954.2,239.0L955.7,239.3Q958.7,239.8 958.9,242.8L959.7,251.7Q959.9,254.7 961.6,257.2L963.2,259.7Q964.9,262.2 967.8,262.8L979.5,265.4Q982.4,266 984.8,267.8L985.0,267.9Q987.4,269.7 990.3,268.8L996.9,266.9Q999.8,266 1002.7,266.9L1009.4,268.8Q1012.3,269.7 1014.6,271.7L1020.0,276.4Q1022.3,278.4 1025.3,277.9L1026.8,277.7Q1029.8,277.2 1032.3,278.9L1042.3,285.5Q1044.8,287.2 1047.7,286.5L1051.8,285.4Q1054.7,284.7 1057.4,283.3L1059.5,282.3Q1062.2,280.9 1064.6,282.7L1064.8,282.9Q1067.2,284.7 1070.2,284.4L1079.2,283.7Q1082.2,283.4 1084.9,284.8L1087.0,285.8Q1089.7,287.2 1092.5,286.1L1102.2,282.2" stroke-width="4.2"/>
<path d="M900,253.5L902.3,286.7Q902.5,289.7 903.1,292.6L906.9,311.7Q907.5,314.6 907.8,317.6L909.7,336.6Q910,339.6 910.7,342.5L914.3,359.1Q915,362 914.7,365.0L914.0,371.5Q913.7,374.5 911.4,376.5L907.3,380.0Q905,382 906.3,384.7L908.7,389.3Q910,392 912.7,393.3L917.5,395.7" stroke-width="4.2"/>
<path d="M900,372 911.2,372" stroke-width="4.2"/>
<path d="M1029.8,340.8L1057.6,311.8Q1059.7,309.6 1062.2,307.9L1087.2,291.4Q1089.7,289.7 1092.4,288.4L1102.0,283.5Q1104.7,282.2 1105.2,279.2L1106.7,271.5Q1107.2,268.5 1109.4,266.4L1122.4,254.3Q1124.6,252.2 1126.7,250.1L1130.0,246.8Q1132.1,244.7 1135.0,245.3L1146.7,247.9Q1149.6,248.5 1152.6,248.5L1161.6,248.5Q1164.6,248.5 1167.6,248.8L1174.0,249.4Q1177,249.7 1178.5,252.3L1183.0,259.6Q1184.5,262.2 1186.3,264.6L1192.7,273.5Q1194.5,275.9 1197.5,275.9L1216.5,275.9Q1219.5,275.9 1220.0,278.9L1221.5,286.7Q1222,289.7 1223.6,292.3L1227.9,299.5Q1229.5,302.1 1229.8,305.1L1230.4,311.6Q1230.7,314.6 1233.5,315.7L1234.1,316.0Q1236.9,317.1 1236.9,320.1L1236.9,326.6Q1236.9,329.6 1239.4,331.3L1244.4,334.6" stroke-width="4.2"/>
<path d="M1112.1,269.7 1134.6,249.7" stroke-width="5"/>
<path d="M1029.8,340.8L1036.8,340.0Q1039.8,339.6 1042.6,338.4L1051.9,334.5Q1054.7,333.3 1057.5,332.3L1061.9,330.6Q1064.7,329.6 1067.4,328.3L1072.0,325.9Q1074.7,324.6 1073.5,327.4L1068.4,339.3Q1067.2,342.1 1070.2,342.1L1079.2,342.1Q1082.2,342.1 1084.7,340.5L1097.2,332.4Q1099.7,330.8 1102.4,329.5L1114.4,323.4Q1117.1,322.1 1119.4,320.2L1122.3,317.8Q1124.6,315.9 1126.6,313.7L1132.6,306.8Q1134.6,304.6 1137.6,304.6L1144.1,304.6Q1147.1,304.6 1145.0,306.7L1141.7,310.0Q1139.6,312.1 1138.1,314.7L1131.1,327.0Q1129.6,329.6 1132.1,327.9L1134.6,326.3Q1137.1,324.6 1140.1,325.0L1144.1,325.5Q1147.1,325.9 1149.2,328.0L1157.5,336.2Q1159.6,338.3 1162.6,338.5L1174.0,339.4Q1177,339.6 1179.3,337.7L1187.2,331.5Q1189.5,329.6 1192.4,329.0L1204.1,326.5Q1207,325.9 1209.9,325.0L1216.6,323.0Q1219.5,322.1 1220.4,324.9L1222.3,330.5Q1223.2,333.3 1226.2,333.3L1234.4,333.3" stroke-width="4.2"/>
<path d="M1107.2,289.7 1124.6,278.4" stroke-width="7"/>
<path d="M1193.3,287.2 1200.7,286.7" stroke-width="7"/>
<path d="M1029.8,340.8L1027.7,359.0Q1027.3,362 1025.2,364.1L1019.4,369.9Q1017.3,372 1016.0,374.7L1013.6,379.3Q1012.3,382 1014.2,384.3L1016.7,387.2Q1018.6,389.5 1018.4,392.5L1017.5,411.5Q1017.3,414.5 1019.7,416.4L1027.4,422.5Q1029.8,424.4 1032.1,426.3L1040.0,432.5Q1042.3,434.4 1044.9,435.9L1057.1,442.9Q1059.7,444.4 1060.2,447.3L1063.0,462.0Q1063.5,464.9 1063.7,467.9L1064.7,479.4" stroke-width="4.2"/>
<path d="M1082.2,342.1L1087.6,347.5Q1089.7,349.6 1092.6,350.3L1121.7,357.6Q1124.6,358.3 1127.4,359.3L1139.3,363.5Q1142.1,364.5 1144.2,366.6L1147.5,369.9Q1149.6,372 1150.2,374.9L1151.5,381.6Q1152.1,384.5 1154.2,386.6L1157.1,389.5" stroke-width="4.2"/>
<path d="M1120,359.3L1127.6,359.7Q1130.6,359.9 1133.4,360.9L1137.2,362.3Q1140,363.3 1141.6,365.8L1141.7,366.1Q1143.3,368.6 1145.9,370.1L1147.4,371.1Q1150,372.6 1150.8,375.5L1151.1,376.3Q1151.9,379.2 1153.6,381.5L1153.6,381.5Q1155.3,383.9 1155.9,386.8L1156.7,391.6Q1157.3,394.5 1155.4,396.8L1153.8,398.9Q1151.9,401.2 1151.0,404.1L1149.5,408.9Q1148.6,411.8 1149.6,414.5L1149.6,414.5Q1150.6,417.2 1152.4,414.8L1156.8,408.9Q1158.6,406.5 1160.4,404.1L1163.5,399.6Q1165.3,397.2 1166.9,394.7L1170.3,389.1Q1171.9,386.6 1174.0,384.5L1175.1,383.3Q1177.2,381.2 1176.3,384.1L1174.1,391.6Q1173.2,394.5 1171.8,397.1L1168.0,403.9Q1166.6,406.5 1165.8,409.4L1163.4,418.3Q1162.6,421.2 1162.1,424.1L1160.4,432.9Q1159.9,435.8 1159.4,438.8L1158.4,444.8Q1157.9,447.8 1157.7,450.8L1156.6,464.4" stroke-width="4.2"/>
<path d="M1165.3,399.9 1175.9,382.6" stroke-width="5"/>
<path d="M1157.3,394.5L1162.7,381.4Q1163.9,378.6 1165.1,375.8L1170.0,364.1Q1171.2,361.3 1172.8,363.8L1173.0,364.1Q1174.6,366.6 1176.6,364.6L1176.6,364.6Q1178.6,362.6 1179.9,365.3L1181.3,368.5Q1182.6,371.2 1184.0,368.6L1185.2,366.5Q1186.6,363.9 1188.6,361.7L1190.5,359.5Q1192.5,357.3 1195.3,356.2L1199.7,354.4Q1202.5,353.3 1205.3,352.2L1210.4,350.4Q1213.2,349.3 1216.1,349.9L1219.6,350.7Q1222.5,351.3 1224.7,353.3L1228.3,356.6Q1230.5,358.6 1231.4,355.7L1232.2,353.5Q1233.1,350.6 1236.1,350.5L1253.1,350" stroke-width="4.2"/>
<path d="M1128,324L1129.5,327.8Q1130.6,330.6 1133.0,328.7L1134.9,327.2Q1137.3,325.3 1140.3,325.3L1143.6,325.3Q1146.6,325.3 1149.0,327.2L1150.9,328.7Q1153.3,330.6 1155.2,332.9L1158.0,336.3Q1159.9,338.6 1162.9,338.2L1166.3,337.7Q1169.3,337.3 1172.2,338.1L1175.7,339.2Q1178.6,340 1180.9,338.1L1184.3,335.2Q1186.6,333.3 1189.3,331.9L1191.8,330.7Q1194.5,329.3 1197.4,328.7L1203.6,327.3Q1206.5,326.7 1209.4,325.9L1218.3,323.5Q1221.2,322.7 1221.6,325.7L1222.1,330.3Q1222.5,333.3 1225.5,333.1L1230.1,332.8Q1233.1,332.6 1233.4,329.6L1234.5,320" stroke-width="4.2"/>
<path d="M1234.5,320L1236.2,325.1Q1237.1,328 1240.1,328.5L1242.1,328.8Q1245.1,329.3 1246.2,332.1L1246.7,333.2Q1247.8,336 1250.4,336.6L1250.4,336.6Q1253.1,337.3 1256.1,337.2L1282.1,336.7Q1285.1,336.6 1288.1,336.5L1312.7,336.1Q1315.7,336 1318.6,336.6L1324.8,338.0Q1327.7,338.6 1330.7,338.6L1335.3,338.6Q1338.3,338.6 1340.4,340.7L1344.2,344.5Q1346.3,346.6 1348.4,348.7L1352.2,352.5Q1354.3,354.6 1357.0,355.9L1360,357.3" stroke-width="4.2"/>
<path d="M1242.5,332L1246.5,339.9Q1247.8,342.6 1250.6,343.7L1258.3,346.9Q1261.1,348 1264.1,348.2L1276.7,349.1Q1279.7,349.3 1282.7,349.6L1290.0,350.3Q1293,350.6 1295.6,349.1L1297.1,348.1Q1299.7,346.6 1302.5,345.5L1303.6,345.1Q1306.4,344 1309.2,345.1L1310.2,345.5Q1313,346.6 1315.0,348.6L1315.0,348.6Q1317,350.6 1316.6,353.6L1316.1,356.9Q1315.7,359.9 1312.9,358.7L1309.2,357.1Q1306.4,355.9 1303.6,354.8L1298.5,353.0Q1295.7,351.9 1292.7,351.9L1282.7,351.9Q1279.7,351.9 1276.7,351.7L1261.1,350.6" stroke-width="5"/>
<path d="M1245.1,336 1253.1,346.6" stroke-width="7"/>
<path d="M1233.1,350.6L1229.0,359.9Q1227.8,362.6 1226.9,365.5L1226.1,367.7Q1225.2,370.6 1227.6,372.4L1228.1,372.8Q1230.5,374.6 1227.9,376.1L1223.8,378.4Q1221.2,379.9 1220.4,382.8L1219.3,386.3Q1218.5,389.2 1217.8,392.1L1215.8,399.9" stroke-width="4.2"/>
<path d="M1217.2,386.6 1215.2,399.9" stroke-width="7"/>
<path d="M1211.8,383.9L1206.8,392.0Q1205.2,394.5 1202.8,396.3L1202.3,396.7Q1199.9,398.5 1198.7,401.3L1197.7,403.7Q1196.5,406.5 1196.7,409.5L1197.0,412.8Q1197.2,415.8 1196.2,418.6L1192.9,427.7Q1191.9,430.5 1193.0,433.3L1194.1,435.7Q1195.2,438.5 1194.2,441.3L1193.5,443.7Q1192.5,446.5 1193.9,449.2L1195.8,453.1Q1197.2,455.8 1198.6,458.5L1202.5,465.8" stroke-width="4.2"/>
<path d="M1211.6,364.6 1212.1,369.3" stroke-width="8"/>
<path d="M1200.9,388.6 1202,389.9" stroke-width="7"/>
<path d="M1235.8,358.6L1238.4,359.2Q1241.1,359.9 1243.7,361.4L1245.2,362.4Q1247.8,363.9 1250.2,365.7L1250.7,366.1Q1253.1,367.9 1256.0,368.6L1260.9,369.9Q1263.8,370.6 1266.6,371.7L1267.6,372.1Q1270.4,373.2 1272.2,375.6L1272.6,376.2Q1274.4,378.6 1275.8,381.2L1275.8,381.2Q1277.1,383.9 1275.1,384.5L1275.1,384.5Q1273.1,385.2 1274.2,388.0L1274.6,389.1Q1275.7,391.9 1276.7,394.7L1277.4,397.1Q1278.4,399.9 1278.6,402.9L1278.9,406.2Q1279.1,409.2 1276.8,411.1L1276.7,411.3Q1274.4,413.2 1273.6,416.1L1272.5,419.6Q1271.7,422.5 1269.1,424.1L1267.7,424.9Q1265.1,426.5 1264.8,429.5L1264.7,431.5Q1264.4,434.5 1266.1,436.5L1266.1,436.5Q1267.8,438.5 1270.4,438.5L1270.4,438.5Q1273.1,438.5 1275.0,436.2L1275.8,435.4Q1277.7,433.1 1278.0,430.1L1278.1,429.5Q1278.4,426.5 1280.5,424.4L1281.6,423.3Q1283.7,421.2 1286.6,420.3L1287.5,420.1Q1290.4,419.2 1293.1,420.5L1294.3,421.2Q1297,422.5 1298.4,425.2L1301.0,430.4Q1302.4,433.1 1303.5,435.9L1305.3,441.0Q1306.4,443.8 1307.4,446.6L1310.3,454.4" stroke-width="4.2"/>
<path d="M1318.3,369.3L1326.0,368.3Q1329,367.9 1330.1,370.7L1331.9,375.8Q1333,378.6 1330.3,377.2L1330.3,377.2Q1327.7,375.9 1325.2,374.2L1318.3,369.3" stroke-width="4.2"/>
<path d="M1333,378.6L1339.2,386.8Q1341,389.2 1343.9,388.3L1346.1,387.5Q1349,386.6 1351.9,387.3L1360,389.2" stroke-width="4.2"/>
<path d="M1333,382.6L1332.0,388.9Q1331.6,391.9 1330.6,394.7L1328.7,399.7Q1327.7,402.5 1327.0,405.4L1325.7,410.3Q1325,413.2 1325.6,416.1L1327.1,423.6Q1327.7,426.5 1327.5,429.5L1327.2,436.8Q1327,439.8 1325.4,442.3L1322.6,446.6Q1321,449.1 1318.5,450.7L1310.3,455.8" stroke-width="4.2"/>
<path d="M1333.8,118.7L1360.5,269.9Q1361,272.9 1361.8,275.8L1364.2,284.3Q1365,287.2 1366.9,289.5L1373.1,297.4Q1375,299.7 1377.2,301.7L1385.2,308.9Q1387.4,310.9 1390.4,311.3L1414.4,314.2Q1417.4,314.6 1420.2,315.8L1429.6,319.7Q1432.4,320.9 1435.4,321.3L1438.1,321.7Q1441.1,322.1 1443.5,323.9L1452.4,330.3Q1454.8,332.1 1457.8,332.1L1464.3,332.1Q1467.3,332.1 1470.1,331.1L1482.0,326.9Q1484.8,325.9 1487.5,324.6L1497.1,319.7Q1499.8,318.4 1502.8,318.4L1509.2,318.4Q1512.2,318.4 1514.9,319.7L1522.2,323.4" stroke-width="4.2"/>
<path d="M1512.2,318.4 1512.2,330.8 1522.2,325.9" stroke-width="4.2"/>
<path d="M1467.3,384.5L1482.7,369.1Q1484.8,367 1486.6,364.6L1498.0,349.5Q1499.8,347.1 1502.1,345.2L1503.7,344.0Q1506,342.1 1508.1,340.0L1520.1,328.0Q1522.2,325.9 1524.0,323.5L1532.9,312.0Q1534.7,309.6 1535.7,306.8L1541.2,290.0Q1542.2,287.2 1544.2,285.0L1562.6,264.4Q1564.6,262.2 1566.9,260.2L1582.3,246.7Q1584.6,244.7 1585.9,242.0L1595.8,222.5Q1597.1,219.8 1597.8,216.9L1603.9,192.7Q1604.6,189.8 1605.7,187.0L1613.5,167.7Q1614.6,164.9 1616.1,162.3L1625.5,146.3Q1627,143.7 1629.5,142.0L1647.0,130.4Q1649.5,128.7 1649.9,125.7L1652.8,104.2Q1653.2,101.2 1653.5,98.2L1654.5,90" stroke-width="4.2"/>
<path d="M1522.2,325.9L1535.6,304.6Q1537.2,302.1 1538.7,299.5L1548.2,282.3Q1549.7,279.7 1551.7,277.5L1572.6,254.4Q1574.6,252.2 1576.9,250.3L1587.3,241.7Q1589.6,239.8 1591.1,237.2L1605.6,212.4Q1607.1,209.8 1608.7,207.3L1622.9,184.8Q1624.5,182.3 1626.3,179.9L1647.7,152.3Q1649.5,149.9 1651.8,148.0L1677.2,126.8Q1679.5,124.9 1682.2,123.6L1696.7,116.3Q1699.4,115 1702.4,114.8L1718.9,113.9Q1721.9,113.7 1724.4,115.4L1731.9,120.7Q1734.4,122.4 1735.0,125.3L1736.3,132.0Q1736.9,134.9 1735.3,137.4L1726.0,152.4Q1724.4,154.9 1721.5,155.8L1702.3,161.5Q1699.4,162.4 1696.7,163.7L1687.1,168.6Q1684.4,169.9 1682.3,172.0L1674.1,180.2Q1672,182.3 1669.0,182.8L1650.0,185.6Q1647,186.1 1644.6,187.9L1644.4,188.0Q1642,189.8 1642.5,192.8L1644.0,201.8Q1644.5,204.8 1642.6,207.1L1634.5,217.3" stroke-width="4.2"/>
<path d="M1522.2,324.6 1534.7,307.1 1543.4,287.2" stroke-width="7"/>
<path d="M1543.4,287.2 1562.1,264.7 1587.1,242.2" stroke-width="5"/>
<path d="M1569.6,188.6 1599.6,189.8 1607.1,186.1" stroke-width="5.5"/>
<path d="M1625.8,213.5L1629.9,217.7Q1632,219.8 1634.1,217.7L1642.4,209.4Q1644.5,207.3 1647.3,208.2L1649.2,208.9Q1652,209.8 1654.6,211.3L1664.4,217.0Q1667,218.5 1667.9,221.4L1681.0,261.8Q1681.9,264.7 1684.6,266.0L1689.2,268.4Q1691.9,269.7 1693.0,272.5L1695.8,279.4Q1696.9,282.2 1699.8,282.8L1706.5,284.1Q1709.4,284.7 1710.1,287.6L1711.9,294.7" stroke-width="4.2"/>
<path d="M1625.8,213.5L1613.2,246.9Q1612.1,249.7 1612.3,252.7L1614.4,276.7Q1614.6,279.7 1613.6,282.5L1608.1,299.3Q1607.1,302.1 1604.7,303.9L1598.2,309.1Q1595.8,310.9 1594.5,313.6L1590.8,320.9" stroke-width="4.2"/>
<path d="M1672,182.3L1682.2,173.1Q1684.4,171.1 1687.0,169.6L1696.8,163.9Q1699.4,162.4 1701.7,164.3L1709.6,170.5Q1711.9,172.4 1714.0,170.3L1717.3,167.0Q1719.4,164.9 1722.4,164.6L1731.4,163.9Q1734.4,163.6 1734.5,166.6L1735.5,186.8Q1735.6,189.8 1733.3,191.7L1731.7,192.9Q1729.4,194.8 1732.2,193.8L1736.6,192.1Q1739.4,191.1 1741.0,193.7L1747.7,204.7Q1749.3,207.3 1751.2,209.6L1757.4,217.5Q1759.3,219.8 1762.3,219.3L1774.3,217.3" stroke-width="4.2"/>
<path d="M1735.6,154.9 1736.9,164.9" stroke-width="6"/>
<path d="M1774.3,197.3L1766.2,187.1Q1764.3,184.8 1763.2,187.6L1760.4,194.5Q1759.3,197.3 1760.6,200.0L1763.0,204.6Q1764.3,207.3 1767.2,208.0L1774.3,209.8" stroke-width="4.2"/>
<path d="M1759.3,184.8 1761.8,199.8" stroke-width="5"/>
<path d="M1774.3,229.8L1763.4,247.2Q1761.8,249.7 1761.2,246.8L1759.9,240.2Q1759.3,237.3 1757.3,239.5L1736.4,262.5Q1734.4,264.7 1732.7,267.2L1726.1,277.2Q1724.4,279.7 1721.6,280.6L1709.4,284.7" stroke-width="4.2"/>
<path d="M1729.4,262.2 1731.9,269.7" stroke-width="5"/>
<path d="M1761.8,232.3L1769.4,238.0Q1771.8,239.8 1769.9,242.1L1761.2,252.4Q1759.3,254.7 1762.1,253.8L1774.3,249.7" stroke-width="4.2"/>
<path d="M1774.3,252.2L1751.1,282.3Q1749.3,284.7 1748.1,287.4L1740.6,304.4Q1739.4,307.1 1740.9,309.7L1747.8,322.0Q1749.3,324.6 1752.1,325.5L1761.5,328.7Q1764.3,329.6 1766.2,327.3L1774.3,317.1" stroke-width="4.2"/>
<path d="M1738.1,307.1 1743.1,289.7" stroke-width="5"/>
<path d="M1716.9,294.7 1719.4,298.4" stroke-width="7"/>
<path d="M1711.9,294.7L1701.5,305.0Q1699.4,307.1 1697.3,309.2L1686.5,320.0Q1684.4,322.1 1681.5,321.4L1672.4,319.1Q1669.5,318.4 1668.9,321.3L1665.1,339.2Q1664.5,342.1 1661.7,343.0L1652.3,346.2Q1649.5,347.1 1647.8,349.6L1641.2,359.5Q1639.5,362 1638.6,364.9L1632.9,384.1Q1632,387 1632.0,390.0L1632,397" stroke-width="4.2"/>
<path d="M1674.5,324.6 1699.4,309.6" stroke-width="6"/>
<path d="M1642,357.1 1664.5,337.1" stroke-width="5"/>
<path d="M1600.8,309.6 1632,397" stroke-width="4.2"/>
<path d="M1590.8,320.9L1591.9,334.1Q1592.1,337.1 1590.8,339.8L1585.9,349.4Q1584.6,352.1 1584.5,355.1L1583.5,374.0Q1583.4,377 1583.6,380.0L1585.9,412" stroke-width="4.2"/>
<path d="M1543.4,335.8L1549.1,361.6Q1549.7,364.5 1550.4,367.4L1554.0,384.1Q1554.7,387 1556.5,389.4L1560.3,394.6Q1562.1,397 1562.9,399.9L1566.1,412" stroke-width="4.2"/>
<path d="M1506,343.3 1590.8,320.9" stroke-width="4.2"/>
<path d="M1382.4,434.4L1390.9,419.6Q1392.4,417 1395.1,415.7L1409.7,408.3Q1412.4,407 1415.0,405.4L1432.3,394.8Q1434.9,393.2 1437.7,392.0L1447.0,388.2Q1449.8,387 1452.8,386.6L1464.3,384.9Q1467.3,384.5 1470.1,385.6L1474.5,387.2Q1477.3,388.3 1477.7,391.3L1479.4,404.0Q1479.8,407 1477.3,408.6L1462.3,417.9Q1459.8,419.5 1456.9,420.1L1445.2,422.6Q1442.3,423.2 1439.3,423.0L1422.9,422.1Q1419.9,421.9 1417.5,423.8L1404.8,433.8Q1402.4,435.7 1399.4,435.5L1382.4,434.4" stroke-width="4.2"/>
<path d="M1437.4,393.2L1447.1,398.1Q1449.8,399.5 1451.9,397.4L1455.2,394.1Q1457.3,392 1454.6,390.7L1449.8,388.3" stroke-width="5"/>
<path d="M1402.4,435.7 1409.9,444.4 1407.9,449.4" stroke-width="4.2"/>
<path d="M1350,349.6L1360.2,357.7Q1362.5,359.6 1364.3,362.0L1373.2,374.6Q1375,377 1372.0,377.5L1363.0,379.0Q1360,379.5 1361.8,381.9L1365.7,387.1Q1367.5,389.5 1364.5,389.1L1350,387" stroke-width="4.2"/>
<path d="M790.7,99 791.9,250" stroke-width="4.2"/>
<path d="M588.8,99 569.8,226" stroke-width="4.2"/>
<path d="M429,99L434.6,109.4Q436,112 437.3,114.7L448.7,137.3Q450,140 451.7,142.5L458.3,152.5Q460,155 459.8,158.0L457.7,182.0Q457.5,185 458.5,187.8L461.0,195.2Q462,198 463.6,200.6L467.5,207" stroke-width="4.2"/>
<path d="M1272.9,99.9L1285.5,103.2Q1288.4,103.9 1290.7,105.8L1299.4,113.1Q1301.7,115 1303.4,117.5L1308.9,125.8Q1310.6,128.3 1309.0,130.9L1303.9,139.4" stroke-width="4.2"/>
<path d="M1310.6,128.3L1318.8,129.9Q1321.7,130.5 1324.3,132.1L1330.2,135.6Q1332.8,137.2 1334.8,139.4L1341.7,147.1" stroke-width="4.2"/>
<path d="M1326.1,101.7L1329.8,102.3Q1332.8,102.8 1335.8,102.6L1343.1,101.9Q1346.1,101.7 1346.8,104.6L1347.6,107.6Q1348.3,110.5 1349.9,113.0L1351.1,114.7Q1352.7,117.2 1352.1,120.1L1351.1,125.4Q1350.5,128.3 1349.2,125.6L1347.4,122.1Q1346.1,119.4 1343.4,118.1L1339.9,116.3Q1337.2,115 1335.9,117.7L1334.1,121.1Q1332.8,123.8 1332.8,126.8L1332.8,137.2" stroke-width="4.2"/>
<path d="M1307.3,131.6 1303.9,139.4" stroke-width="6"/>
<path d="M1627,1242.3L1634.6,1248.0Q1637,1249.8 1640.0,1249.4L1654.0,1247.7Q1657,1247.3 1660.0,1247.7L1674.0,1249.4Q1677,1249.8 1678.8,1252.2L1682.6,1257.3Q1684.4,1259.7 1683.2,1261.6L1683.2,1261.6Q1681.9,1263.5 1684.9,1263.0L1701.4,1260.2Q1704.4,1259.7 1707.4,1260.1L1721.4,1261.8Q1724.4,1262.2 1727.2,1263.3L1741.5,1268.6Q1744.3,1269.7 1742.7,1272.2L1741.0,1274.7Q1739.4,1277.2 1736.6,1278.4L1724.7,1283.5Q1721.9,1284.7 1719.1,1285.8L1712.2,1288.6Q1709.4,1289.7 1706.5,1290.6L1687.3,1296.3Q1684.4,1297.2 1681.4,1297.6L1662.5,1300.5Q1659.5,1300.9 1656.6,1301.8L1642.4,1306.3Q1639.5,1307.2 1636.5,1307.5L1620.1,1309.4Q1617.1,1309.7 1614.6,1311.3L1609.6,1314.6" stroke-width="4.2"/>
<path d="M1627,1274.7L1631.7,1282.2Q1633.3,1284.7 1631.8,1287.3L1626.0,1297.1Q1624.5,1299.7 1622.5,1302.0L1615.8,1309.7" stroke-width="4.2"/>
<path d="M1680.7,1262.2 1683.2,1264.7" stroke-width="6"/>
<path d="M1350,1274.7L1356.2,1262.4Q1357.5,1259.7 1359.5,1257.4L1373.0,1242.1Q1375,1239.8 1377.5,1238.1L1397.4,1224.0Q1399.9,1222.3 1402.7,1221.4L1434.6,1210.7Q1437.4,1209.8 1440.4,1209.3L1466.8,1205.3Q1469.8,1204.8 1472.7,1205.5L1486.9,1209.1Q1489.8,1209.8 1492.8,1210.0L1506.7,1210.9Q1509.7,1211.1 1512.7,1211.6L1521.7,1213.1Q1524.7,1213.6 1527.5,1214.6L1531.9,1216.3Q1534.7,1217.3 1537.7,1217.0L1554.2,1215.1Q1557.2,1214.8 1560.1,1215.6L1571.7,1219.0Q1574.6,1219.8 1577.3,1221.1L1586.9,1226.0Q1589.6,1227.3 1592.3,1228.6L1606.9,1236.0Q1609.6,1237.3 1612.5,1238.1L1627,1242.3" stroke-width="4.2"/>
<path d="M1350,1272.2L1362.5,1263.9Q1365,1262.2 1367.6,1260.7L1384.8,1251.3Q1387.4,1249.8 1389.8,1248.0L1405.0,1236.6Q1407.4,1234.8 1410.2,1233.6L1422.1,1228.5Q1424.9,1227.3 1427.9,1227.7L1441.8,1229.4Q1444.8,1229.8 1443.0,1232.2L1439.2,1237.4Q1437.4,1239.8 1440.2,1241.0L1452.0,1246.1Q1454.8,1247.3 1457.6,1246.4L1467.0,1243.2Q1469.8,1242.3 1472.5,1243.6L1477.1,1246.0Q1479.8,1247.3 1482.7,1246.6L1496.9,1243.0Q1499.8,1242.3 1502.6,1243.4L1516.9,1248.7Q1519.7,1249.8 1522.7,1250.2L1536.7,1251.8Q1539.7,1252.2 1542.7,1252.6L1556.7,1254.3Q1559.7,1254.7 1562.4,1256.0L1571.9,1260.9Q1574.6,1262.2 1575.7,1265.0L1578.5,1271.9Q1579.6,1274.7 1582.3,1276.0L1586.9,1278.4Q1589.6,1279.7 1592.6,1279.3L1627,1274.7" stroke-width="4.2"/>
<path d="M1403.7,1264.7L1412.0,1262.9Q1414.9,1262.2 1417.3,1264.0L1422.5,1267.9Q1424.9,1269.7 1423.1,1272.1L1419.2,1277.3Q1417.4,1279.7 1414.4,1279.4L1407.9,1278.8Q1404.9,1278.5 1404.6,1275.5L1403.7,1264.7" stroke-width="4.2"/>
<path d="M1559.7,1144.9 1584.6,1164.9 1589.6,1159.9" stroke-width="4.2"/>
<path d="M1774.3,1219.8L1756.8,1230.7Q1754.3,1232.3 1753.7,1234.8L1753.7,1234.8Q1753.1,1237.3 1756.0,1236.6L1774.3,1232.3" stroke-width="4.2"/>
<path d="M1771.3,1208.6 1772.3,1211.1" stroke-width="7"/>
<path d="M359.5,1140L373.8,1151.4Q376.1,1153.3 378.6,1155.0L413.5,1178.2Q416,1179.9 416.7,1182.8L425.3,1216.9Q426,1219.8 428.6,1218.3L440.0,1211.4Q442.6,1209.9 442.6,1206.9L442.6,1176.2Q442.6,1173.2 440.8,1170.8L424.5,1149.0Q422.7,1146.6 420.8,1144.3L409.4,1130" stroke-width="4.2"/>
<path d="M492.6,1140L510.8,1167.4Q512.5,1169.9 514.2,1172.4L534.1,1200.7Q535.8,1203.2 537.7,1205.5L560.5,1234.2Q562.4,1236.5 563.6,1239.2L574.6,1263.7Q575.8,1266.4 575.8,1269.4L575.8,1276.7Q575.8,1279.7 577.1,1282.4L589.1,1306.4" stroke-width="4.2"/>
<path d="M886.7,1142L880.8,1162.1Q880,1165 879.2,1167.9L870.8,1197.1Q870,1200 869.4,1202.9L862.6,1237.1Q862,1240 862.0,1243.0L861.7,1272.0Q861.7,1275 862.2,1278.0L864.2,1290.0Q864.7,1293 865.7,1295.8L868.7,1304.2Q869.7,1307 872.4,1308.3L879.7,1312" stroke-width="4.2"/>
<path d="M571.6,1275L578.3,1288.3Q579.6,1291 582.0,1292.8L586.2,1296.2Q588.6,1298 588.2,1301.0L586.6,1312" stroke-width="4.2"/>
<path d="M1177.8,1312L1197.0,1304.1Q1199.8,1303 1202.7,1302.2L1216.8,1298.1Q1219.7,1297.3 1222.7,1297.6L1242.7,1299.7Q1245.7,1300 1248.4,1298.7L1255.0,1295.3Q1257.7,1294 1260.2,1295.7L1267.2,1300.3Q1269.7,1302 1270.6,1304.9L1272.7,1312" stroke-width="4.2"/>
<path d="M1249,1297 1252,1299" stroke-width="6"/>
<path d="M538,1286 539.5,1290" stroke-width="6"/>
<path d="M1302.9,437 1309.9,457 1309.9,470" stroke-width="4.2"/>
<path d="M1328.9,438L1327.0,443.2Q1325.9,446 1323.6,448.0L1320.2,451.0Q1317.9,453 1315.2,454.3L1309.9,457" stroke-width="4.2"/>
<path d="M1302.9,470.9L1303.9,470.4Q1304.9,470 1306.6,472.5L1307.2,473.4Q1308.9,475.9 1311.4,476.4L1311.4,476.4Q1313.9,476.9 1314.4,478.9L1314.4,478.9Q1314.9,480.9 1313.4,482.4L1313.4,482.4Q1311.9,483.9 1308.9,483.6L1305.9,483.2Q1302.9,482.9 1301.9,481.4L1301.9,481.4Q1300.9,479.9 1301.6,477.0L1302.9,470.9" stroke-width="4.2"/>
<path d="M1309.9,470 1308.9,475.9" stroke-width="4.2"/>
<path d="M1302.9,482.9L1298.8,484.7Q1296,485.9 1295.2,488.8L1294.8,490.0Q1294,492.9 1293.1,495.7L1291.9,499.1Q1291,501.9 1289.8,504.7L1288,508.9" stroke-width="4.2"/>
<path d="M1298,493.9L1301.4,496.2Q1303.9,497.9 1306.7,497.0L1307.1,496.8Q1309.9,495.9 1311.9,497.4L1311.9,497.4Q1313.9,498.9 1314.4,496.9L1314.4,496.9Q1314.9,494.9 1317.0,492.8L1317.8,492.0Q1319.9,489.9 1322.4,488.2L1327.4,484.6Q1329.9,482.9 1331.8,480.6L1332.0,480.2Q1333.9,477.9 1335.6,475.4L1338.2,471.5Q1339.9,469 1342.6,467.8L1347.2,465.7Q1349.9,464.5 1352.9,464.4L1356.9,464.1Q1359.9,464 1362.9,464.3L1366.8,464.7Q1369.8,465 1372.8,464.7L1379.8,464" stroke-width="4.2"/>
<path d="M1367.8,463L1369.3,461.0Q1370.8,459 1373.4,457.5L1377.2,455.5Q1379.8,454 1382.6,452.9L1387.0,451.1Q1389.8,450 1392.7,449.4L1396.9,448.6Q1399.8,448 1402.8,447.7L1406.8,447.3Q1409.8,447 1410.8,444.5L1410.8,444.5Q1411.8,442 1410.8,439.5L1409.8,437" stroke-width="4.2"/>
<path d="M1288,508.9L1297.4,514.4Q1300,515.9 1301.5,517.4L1301.5,517.4Q1302.9,518.9 1304.9,516.9L1304.9,516.9Q1306.9,514.9 1309.4,515.4L1309.4,515.4Q1311.9,515.9 1314.6,517.2L1315.2,517.6Q1317.9,518.9 1320.6,517.6L1323.2,516.2Q1325.9,514.9 1328.7,513.8L1331.1,513.0Q1333.9,511.9 1336.9,511.4L1336.9,511.4Q1339.9,510.9 1342.0,508.8L1345.8,505.0Q1347.9,502.9 1350.3,501.1L1353.5,498.7Q1355.9,496.9 1358.5,495.4L1367.2,490.4Q1369.8,488.9 1372.4,487.4L1377.2,484.4Q1379.8,482.9 1382.0,480.9L1386.6,476.9Q1388.8,474.9 1390.9,472.8L1394.7,469.1Q1396.8,467 1398.7,464.7L1402.9,459.3Q1404.8,457 1406.5,454.5L1409.1,450.5Q1410.8,448 1410.3,446.0L1409.8,444" stroke-width="4.2"/>
<path d="M1300.9,518.9 1305.9,515.9 1311.9,517.4" stroke-width="6"/>
<path d="M1310.7,503.9 1311.1,506.4" stroke-width="8"/>
<path d="M1552.9,378L1554.2,383.1Q1554.9,386 1557.4,387.5L1557.4,387.5Q1559.9,389 1560.7,391.9L1562.1,397.1Q1562.9,400 1563.5,402.9L1565.3,412.0Q1565.9,414.9 1565.9,417.9L1565.9,440.9Q1565.9,443.9 1566.5,446.8L1568.3,455.0Q1568.9,457.9 1569.6,460.8L1573.2,474.9Q1573.9,477.8 1571.9,480.1L1566.9,485.8" stroke-width="4.2"/>
<path d="M1583.9,378 1584.9,400 1585.9,410" stroke-width="4.2"/>
<path d="M1565.9,415.9L1583.0,411.2Q1585.9,410.4 1588.9,409.9L1617.8,404.5Q1620.8,404 1623.0,402.0L1627.6,398.0Q1629.8,396 1631.3,395.5L1632.8,395" stroke-width="4.2"/>
<path d="M1632.8,395L1637.7,399.9Q1639.8,402 1638.1,404.4L1636.5,406.6Q1634.8,409 1633.7,411.8L1632.9,414.1Q1631.8,416.9 1634.7,417.6L1636.9,418.2Q1639.8,418.9 1641.6,421.3L1644.0,424.5Q1645.8,426.9 1647.9,429.0L1650.7,431.8Q1652.8,433.9 1655.7,434.7L1656.9,435.1Q1659.8,435.9 1662.6,434.7L1664.0,434.1Q1666.8,432.9 1667.2,429.9L1667.4,427.9Q1667.8,424.9 1665.7,422.8L1664.9,422.0Q1662.8,419.9 1659.8,419.7L1656.8,419.4" stroke-width="5"/>
<path d="M1565.9,443.9L1621.9,432.0Q1624.8,431.4 1626.3,434.0L1628.3,437.3Q1629.8,439.9 1629.3,442.9L1627.8,451.9" stroke-width="4.2"/>
<path d="M1614.8,437.9 1620.8,456.9" stroke-width="4.2"/>
<path d="M1627.8,435.9 1630.8,443.9 1634.8,448.9" stroke-width="9"/>
<path d="M1634.8,447.9 1647.8,437.9 1652.8,439.9" stroke-width="5.5"/>
<path d="M1634.8,449.9L1630.4,452.4Q1627.8,453.9 1625.0,455.1L1623.6,455.7Q1620.8,456.9 1618.2,458.3L1608.5,463.5Q1605.9,464.9 1603.0,465.8L1592.8,469.0Q1589.9,469.9 1587.5,471.6L1578.3,478.1Q1575.9,479.8 1573.4,481.5L1566.9,485.8" stroke-width="4.2"/>
<path d="M1646.8,451.4 1655.8,447.9" stroke-width="9"/>
<path d="M1566.9,485.8L1576.9,485.0Q1579.9,484.8 1582.7,483.8L1597.1,478.8Q1599.9,477.8 1602.0,475.7L1605.8,472.0Q1607.9,469.9 1610.9,469.9L1617.8,469.9Q1620.8,469.9 1618.2,471.3L1612.5,474.4Q1609.9,475.8 1607.3,477.3L1602.9,479.8" stroke-width="4.2"/>
<path d="M1604.9,478.8L1617.1,473.1Q1619.8,471.8 1617.6,473.8L1612.1,478.8Q1609.9,480.8 1607.4,482.4L1592.4,492.2Q1589.9,493.8 1587.2,495.0L1576.6,499.6Q1573.9,500.8 1571.0,501.6L1562.9,503.8" stroke-width="4.2"/>
<path d="M1602.9,475.8 1617.8,470.8" stroke-width="6"/>
<path d="M1559.9,477.8L1563.0,481.5Q1564.9,483.8 1563.6,486.5L1563.2,487.1Q1561.9,489.8 1563.9,491.3L1563.9,491.3Q1565.9,492.8 1563.9,495.1L1561.9,497.5Q1559.9,499.8 1559.6,502.8L1559.2,505.8Q1558.9,508.8 1561.4,509.3L1561.4,509.3Q1563.9,509.8 1565.9,508.8L1567.9,507.8" stroke-width="6"/>
<path d="M1567.9,507.8L1569.4,516.8Q1569.9,519.8 1569.6,522.8L1569.2,527.0Q1568.9,530 1568.4,532.9L1567.9,535.7" stroke-width="4.2"/>
<path d="M1535,479.8 1563.9,487.8" stroke-width="4.2"/>
<path d="M1518,461.9L1522.4,464.4Q1525,465.9 1526.4,468.6L1526.6,469.1Q1528,471.8 1530.0,474.1L1533.0,477.5Q1535,479.8 1534.1,482.7L1532.9,486.9Q1532,489.8 1530.7,492.5L1530.3,493.1Q1529,495.8 1531.0,497.8L1531.0,497.8Q1533,499.8 1531.9,502.6L1531.1,505.0Q1530,507.8 1532.1,509.9L1534.9,512.7Q1537,514.8 1539.4,516.6L1546.6,522.0Q1549,523.8 1546.8,525.8L1544.2,528.0Q1542,530 1540.0,532.3L1537,535.7" stroke-width="4.2"/>
<path d="M1542.4,527.5L1540.2,533.0Q1539.1,535.8 1536.5,537.3L1534.2,538.5Q1531.6,540 1528.7,540.7L1527.8,540.9Q1524.9,541.6 1523.7,543.7L1523.7,543.7Q1522.4,545.8 1522.8,546.2L1522.8,546.2Q1523.2,546.6 1523.7,549.6L1524.4,554.5Q1524.9,557.5 1525.6,560.4L1533.4,590.3Q1534.1,593.2 1537.0,592.3L1550.7,588.2" stroke-width="4.2"/>
<path d="M1528.2,542.5L1529.9,548.7Q1530.7,551.6 1532.8,553.7L1534.5,555.4Q1536.6,557.5 1539.3,558.8L1542.2,560.3Q1544.9,561.6 1547.9,562.0L1548.5,562.0Q1551.5,562.4 1552.2,565.3L1552.5,567.0Q1553.2,569.9 1554.9,567.4L1554.8,567.4Q1556.5,564.9 1557.5,562.1L1558.9,557.8Q1559.9,555 1561.2,552.3L1561.9,551.0Q1563.2,548.3 1563.6,546.2L1563.6,546.2Q1564,544.1 1566.1,542.0L1567.7,540.4Q1569.8,538.3 1570.1,535.3L1570.4,533.0Q1570.7,530 1570.4,527.0L1570.1,523.0Q1569.8,520 1568.5,517.3L1567.8,516.1Q1566.5,513.4 1566.1,511.7L1565.7,510" stroke-width="5"/>
<path d="M1531.6,553.3L1536.1,562.2Q1537.4,564.9 1539.2,567.3L1541.4,570.0Q1543.2,572.4 1545.5,574.4L1547.6,576.3Q1549.9,578.3 1551.0,581.1L1551.3,582.1Q1552.4,584.9 1553.1,587.8L1553.3,588.7Q1554,591.6 1553.8,594.6L1553.4,601.9Q1553.2,604.9 1551.8,607.6L1550.4,610.5Q1549,613.2 1547.7,615.9L1547.0,617.2Q1545.7,619.9 1546.1,622.9L1546.1,623.5Q1546.5,626.5 1544.5,628.1L1544.5,628.1Q1542.4,629.8 1540.8,632.3L1540.8,632.3Q1539.1,634.8 1539.1,637.8L1539.1,644" stroke-width="6"/>
<path d="M1543.2,611.5L1541.6,617.0Q1540.7,619.9 1539.4,622.6L1537.9,625.5Q1536.6,628.2 1536.3,631.2L1536.0,635.2Q1535.7,638.2 1536.8,641.0L1538.2,644.8" stroke-width="6"/>
<path d="M1521.6,545.8L1518.1,551.5Q1516.6,554.1 1514.3,556.1L1512.2,558.0Q1509.9,560 1508.2,561.6L1508.2,561.6Q1506.6,563.3 1504.8,565.7L1504.2,566.7Q1502.4,569.1 1503.3,571.9L1504.0,573.8Q1504.9,576.6 1505.6,579.5L1505.9,581.2Q1506.6,584.1 1506.9,587.1L1507.1,588.6Q1507.4,591.6 1506.2,593.2L1506.2,593.2Q1504.9,594.9 1506.1,597.7L1506.2,597.9Q1507.4,600.7 1509.8,602.4L1510.9,603.2Q1513.3,604.9 1515.3,607.0L1515.3,607.0Q1517.4,609 1518.7,610.2L1519.9,611.5" stroke-width="7"/>
<path d="M1516.6,555L1514.4,560.5Q1513.3,563.3 1513.9,566.2L1514.3,568.7Q1514.9,571.6 1515.8,574.1L1515.8,574.1Q1516.6,576.6 1515.3,579.1L1515.3,579.1Q1514.1,581.6 1514.5,584.6L1514.5,585.2Q1514.9,588.2 1517.8,588.9L1518.7,589.2Q1521.6,589.9 1523.2,589.9L1523.2,589.9Q1524.9,589.9 1522.2,591.2L1521.0,591.9Q1518.3,593.2 1519.1,596.1L1519.1,596.2Q1519.9,599.1 1522.7,600.1L1523.8,600.5Q1526.6,601.5 1529.1,600.3L1529.1,600.3Q1531.6,599.1 1531.6,602.0L1531.6,602.0Q1531.6,604.9 1532.8,607.4L1532.8,607.4Q1534.1,609.9 1534.5,611.5L1534.5,611.5Q1534.9,613.2 1537.5,611.7L1538.1,611.4Q1540.7,609.9 1542.8,609.5L1544.9,609" stroke-width="7"/>
<path d="M1470,574.1L1474.2,576.7Q1476.7,578.3 1479.4,579.5L1481.4,580.4Q1484.1,581.6 1487.1,581.9L1488.6,582.1Q1491.6,582.4 1493.3,583.6L1493.3,583.6Q1495,584.9 1493.9,587.7L1492.7,590.4Q1491.6,593.2 1489.9,595.7L1489.2,596.6Q1487.5,599.1 1487.5,602.0L1487.5,602.0Q1487.5,604.9 1490.1,606.4L1490.7,606.7Q1493.3,608.2 1495.4,606.5L1495.4,606.5Q1497.5,604.9 1500.4,605.7L1500.4,605.7Q1503.3,606.5 1506.1,607.6L1507.1,607.9Q1509.9,609 1512.8,609.6L1518.3,610.7" stroke-width="6.5"/>
<path d="M1495,614L1502.3,618.4Q1504.9,619.9 1507.4,621.6L1510.8,624.0Q1513.3,625.7 1515.8,627.3L1517.4,628.2Q1519.9,629.8 1521.0,627.0L1522.1,624.3Q1523.2,621.5 1522.1,618.7L1519.9,613.2" stroke-width="7"/>
<path d="M1510.8,636.5L1517.3,640.1Q1519.9,641.5 1522.4,639.9L1524.1,638.9Q1526.6,637.3 1525.4,634.6L1523.2,629.8" stroke-width="7"/>
<path d="M1497.5,645.6L1504.4,645.0Q1507.4,644.8 1510.4,645.3L1513.6,646.0Q1516.6,646.5 1519.3,647.8L1520.5,648.5Q1523.2,649.8 1525.7,648.1L1528.2,646.5" stroke-width="7"/>
<path d="M1519.9,648.1L1525.9,653.1Q1528.2,655 1531.1,654.4L1535.3,653.7Q1538.2,653.1 1540.9,654.5L1542.2,655.1Q1544.9,656.5 1546.7,658.9L1549.9,663.1" stroke-width="7"/>
<path d="M1496.9,645L1506.9,644.2Q1509.9,644 1512.8,644.6L1516.9,645.4Q1519.8,646 1520.6,648.9L1522.0,654.0Q1522.8,656.9 1525.5,655.7L1529.1,654.1Q1531.8,652.9 1534.8,653.3L1535.8,653.5Q1538.8,653.9 1540.4,656.4L1543.1,660.4Q1544.7,662.9 1546.2,665.5L1550.2,672.3Q1551.7,674.9 1553.6,677.2L1557.8,682.5Q1559.7,684.8 1561.3,687.3L1564.0,691.3Q1565.6,693.8 1566.2,696.7L1567.0,700.8Q1567.6,703.7 1566.9,706.6L1566.3,709.8Q1565.6,712.7 1563.1,714.4L1553.7,720.7" stroke-width="6.5"/>
<path d="M1520.8,683.8L1522.9,690.9Q1523.8,693.8 1526.4,692.3L1531.2,689.3Q1533.8,687.8 1535.1,685.1L1536.5,682.5Q1537.8,679.8 1540.8,679.3L1540.8,679.3Q1543.7,678.8 1541.2,680.4L1538.3,682.2Q1535.8,683.8 1538.6,684.8L1538.9,684.8Q1541.7,685.8 1544.7,686.2L1546.7,686.4Q1549.7,686.8 1549.2,689.8L1548.2,696.8Q1547.7,699.8 1546.2,699.3L1546.2,699.3Q1544.7,698.8 1545.0,695.8L1545.7,689.8" stroke-width="7"/>
<path d="M1517.8,711.7L1521.9,712.9Q1524.8,713.7 1527.5,712.4L1530.1,711.0Q1532.8,709.7 1534.3,711.7L1534.3,711.7Q1535.8,713.7 1538.8,713.4L1542.7,713.0Q1545.7,712.7 1547.4,710.2L1550.0,706.2Q1551.7,703.7 1553.4,701.2L1555.7,697.8" stroke-width="6.5"/>
<path d="M1532.8,709.7 1533.8,725.6" stroke-width="6.5"/>
<path d="M1519.8,725.6L1522.5,727.7Q1524.8,729.6 1527.8,729.3L1530.8,728.9Q1533.8,728.6 1536.8,728.1L1536.8,728.1Q1539.8,727.6 1542.8,727.9L1545.7,728.3Q1548.7,728.6 1547.4,731.3L1543.0,739.9Q1541.7,742.6 1539.2,740.9L1538.3,740.3Q1535.8,738.6 1532.9,739.4L1524.7,741.8Q1521.8,742.6 1519.7,744.7L1518.0,746.4Q1515.9,748.5 1513.9,746.5L1513.9,746.5Q1511.9,744.6 1512.9,747.4L1512.9,747.7Q1513.9,750.5 1511.9,752.7L1507.9,757.3Q1505.9,759.5 1504.7,762.2L1503.1,765.8Q1501.9,768.5 1500.9,769.0L1500.9,769.0Q1499.9,769.5 1500.2,772.5L1500.6,775.4Q1500.9,778.4 1497.9,778.9L1493.0,779.9Q1490,780.4 1487.2,781.5L1480,784.4" stroke-width="6"/>
</g>
<rect x="67" y="1145.6" width="1559" height="129.8" fill="#fff" fill-opacity="0.88" stroke="#000" stroke-opacity="0.9" stroke-width="4.2"/>
</g>
<rect x="30.2" y="99.6" width="1744.6" height="1211.8" fill="none" stroke="#000" stroke-width="3.3"/>
<text x="82.6" y="1197.2" font-size="50">Valid: 2025-11-12 12:00 UTC to 2025-11-13 12:00 UTC</text>
<text x="82.6" y="1251.4" font-size="50" xml:space="preserve">Run:   2025-11-05 00:00 UTC</text>
<text x="30.8" y="75.5" font-size="58.33" xml:space="preserve">GEFS Daily SHIP Sum of Ensemble Mean (<tspan class="it" font-size="61" stroke="#000" stroke-width="0.6">σ</tspan><tspan dx="1">)</tspan></text>
<!-- colorbar -->
<g>
<path d="M74,1324 L148.8,1314 L148.8,1334 Z" fill="#2166ac"/>
<rect x="148.8" y="1314" width="215.3" height="20" fill="#4393c3"/>
<rect x="364.1" y="1314" width="215.3" height="20" fill="#92c5de"/>
<rect x="579.3" y="1314" width="215.3" height="20" fill="#d1e5f0"/>
<rect x="794.6" y="1314" width="215.3" height="20" fill="#f7f7f7"/>
<rect x="1009.8" y="1314" width="215.3" height="20" fill="#fddbc7"/>
<rect x="1225.1" y="1314" width="215.3" height="20" fill="#f4a582"/>
<rect x="1440.3" y="1314" width="215.3" height="20" fill="#d6604d"/>
<path d="M1655.5,1314 L1730,1324 L1655.5,1334 Z" fill="#b2182b"/>
<path d="M74,1324 L148.8,1314 L1655.5,1314 L1730,1324 L1655.5,1334 L148.8,1334 Z" fill="none" stroke="#000" stroke-width="3.3" stroke-linejoin="miter"/>
<g stroke="#000" stroke-width="3.3">
<path d="M148.8,1334V1350.5M364.1,1334V1350.5M579.3,1334V1350.5M794.6,1334V1350.5M1009.8,1334V1350.5M1225.1,1334V1350.5M1440.3,1334V1350.5M1655.5,1334V1350.5"/>
</g>
<g font-size="50" text-anchor="middle">
<text x="150.5" y="1400">−2.0</text>
<text x="365.8" y="1400">−1.0</text>
<text x="581.0" y="1400">−0.5</text>
<text x="796.3" y="1400">−0.0</text>
<text x="1009.8" y="1400">0.0</text>
<text x="1225.1" y="1400">0.5</text>
<text x="1440.3" y="1400">1.0</text>
<text x="1655.5" y="1400">2.0</text>
<text x="905.5" y="1465" xml:space="preserve">SHIP Daily Sum (<tspan class="it" font-size="54" stroke="#000" stroke-width="0.5">σ</tspan>)</text>
</g>
</g>
<!--LOGO_START--><g transform="translate(10,1375) scale(0.07968)">
<path d="M480,152 L824,258 L824,1262 L480,1378 L141,1262 L141,258 Z" fill="#231f20" stroke="#b9b9b9" stroke-width="22" stroke-linejoin="miter"/>
<path d="M141,1040 C300,1000 520,990 824,850 L824,1262 L480,1378 L141,1262 Z" fill="#cc0a0f"/>
<path d="M141,1010 C300,985 520,960 824,835 L824,925 C600,1010 350,1030 141,1065 Z" fill="#ffffff"/>
<path d="M255,562 L255,540 L270,530 L270,400 L285,300 L300,400 L320,492 L350,492 L400,385 L430,492 L455,492 L480,340 L505,492 L530,492 L565,385 L610,492 L640,492 L670,400 L685,300 L700,400 L700,530 L715,540 L715,562 Z" fill="#ffffff"/>
<path d="M270,562 L700,562 L700,905 C560,960 400,985 270,1000 Z" fill="#ffffff"/>
<rect x="318" y="585" width="16" height="400" fill="#231f20"/>
<rect x="640" y="585" width="16" height="335" fill="#231f20"/>
<rect x="378" y="628" width="90" height="140" fill="#231f20"/>
<rect x="497" y="628" width="90" height="140" fill="#231f20"/>
<rect x="378" y="795" width="90" height="130" fill="#231f20"/>
<rect x="497" y="795" width="90" height="130" fill="#231f20"/>
<g fill="#ffffff">
<rect x="400" y="668" width="68" height="14"/><rect x="400" y="714" width="68" height="14"/>
<rect x="519" y="668" width="68" height="14"/><rect x="519" y="714" width="68" height="14"/>
<rect x="400" y="832" width="68" height="14"/><rect x="400" y="876" width="68" height="14"/>
<rect x="519" y="832" width="68" height="14"/><rect x="519" y="876" width="68" height="14"/>
</g>
<text x="219" y="1236" font-size="212" font-weight="bold" textLength="536" lengthAdjust="spacingAndGlyphs" style="font-family:'Liberation Sans',sans-serif;fill:#ffffff">NIU</text>
</g><!--LOGO_END-->
</svg>
</body></html>
